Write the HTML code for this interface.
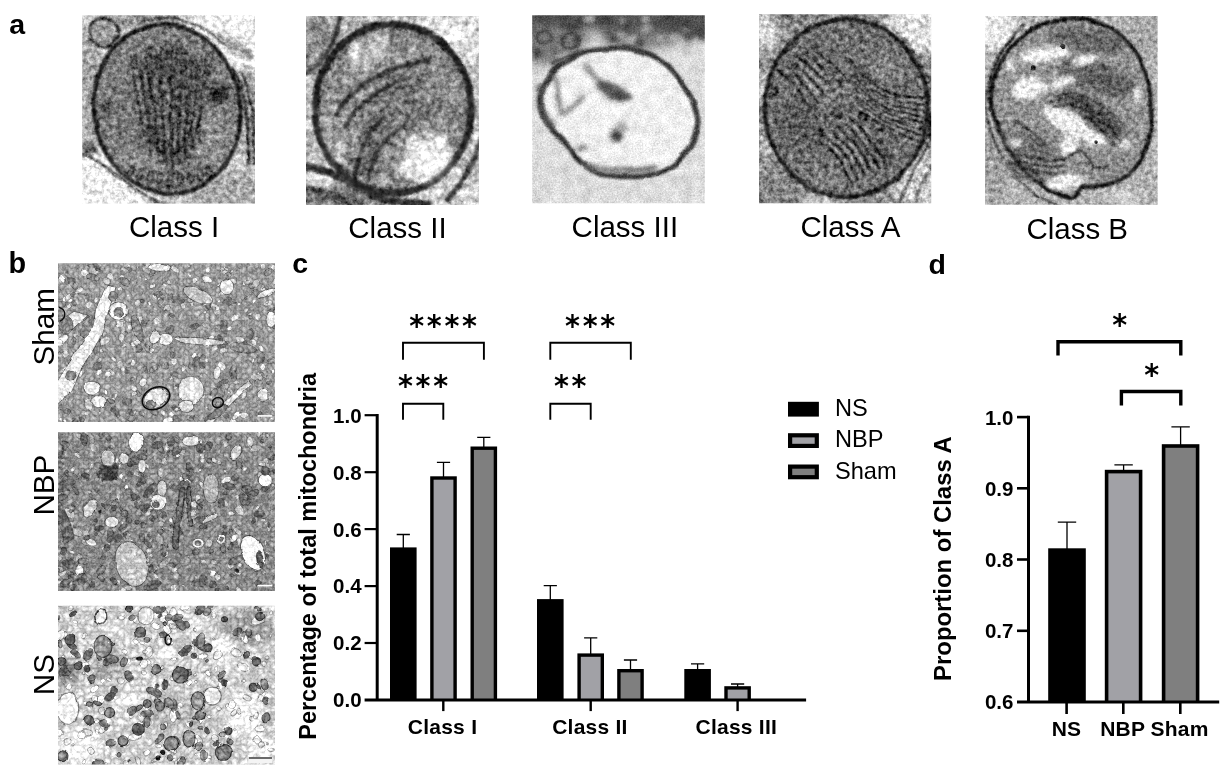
<!DOCTYPE html>
<html lang="en"><head><meta charset="utf-8"><title>Figure</title>
<style>html,body{margin:0;padding:0;background:#fff;}body{width:1227px;height:770px;overflow:hidden;position:relative;}svg{position:absolute;left:0;top:0;display:block;}text{font-family:'Liberation Sans', Arial, Helvetica, sans-serif;fill:#000;}.st{font-family:'DejaVu Sans',sans-serif;}</style></head><body>
<svg width="1227" height="770" viewBox="0 0 1227 770">
<defs>
<clipPath id="cp_a1"><rect x="0" y="0" width="172.8" height="188.2"/></clipPath>
<clipPath id="cp_a2"><rect x="0" y="0" width="172.4" height="188.3"/></clipPath>
<clipPath id="cp_a3"><rect x="0" y="0" width="172.6" height="188.0"/></clipPath>
<clipPath id="cp_a4"><rect x="0" y="0" width="172.2" height="189.0"/></clipPath>
<clipPath id="cp_a5"><rect x="0" y="0" width="172.5" height="188.7"/></clipPath>
<clipPath id="cp_b1"><rect x="0" y="0" width="217.0" height="158.6"/></clipPath>
<clipPath id="cp_b2"><rect x="0" y="0" width="217.0" height="158.9"/></clipPath>
<clipPath id="cp_b3"><rect x="0" y="0" width="217.0" height="158.8"/></clipPath>
<filter id="bl05" x="-30%" y="-30%" width="160%" height="160%" color-interpolation-filters="sRGB"><feGaussianBlur stdDeviation="0.5"/></filter>
<filter id="bl08" x="-30%" y="-30%" width="160%" height="160%" color-interpolation-filters="sRGB"><feGaussianBlur stdDeviation="0.8"/></filter>
<filter id="bl1" x="-30%" y="-30%" width="160%" height="160%" color-interpolation-filters="sRGB"><feGaussianBlur stdDeviation="1.1"/></filter>
<filter id="bl2" x="-30%" y="-30%" width="160%" height="160%" color-interpolation-filters="sRGB"><feGaussianBlur stdDeviation="2"/></filter>
<filter id="bl3" x="-30%" y="-30%" width="160%" height="160%" color-interpolation-filters="sRGB"><feGaussianBlur stdDeviation="3"/></filter>
<filter id="bl5" x="-30%" y="-30%" width="160%" height="160%" color-interpolation-filters="sRGB"><feGaussianBlur stdDeviation="5"/></filter>
<filter id="bl8" x="-30%" y="-30%" width="160%" height="160%" color-interpolation-filters="sRGB"><feGaussianBlur stdDeviation="8"/></filter>
<filter id="bl12" x="-30%" y="-30%" width="160%" height="160%" color-interpolation-filters="sRGB"><feGaussianBlur stdDeviation="12"/></filter>
<filter id="gr_a1" filterUnits="userSpaceOnUse" x="0" y="0" width="172.8" height="188.2" color-interpolation-filters="sRGB"><feTurbulence type="fractalNoise" baseFrequency="0.05" numOctaves="2" seed="10" result="dn"/><feDisplacementMap in="SourceGraphic" in2="dn" scale="4" xChannelSelector="R" yChannelSelector="G" result="src"/><feTurbulence type="fractalNoise" baseFrequency="0.5" numOctaves="2" seed="3" result="t1"/><feColorMatrix in="t1" type="matrix" values="1 0 0 0 0  1 0 0 0 0  1 0 0 0 0  0 0 0 0 1" result="g1"/><feComposite in="src" in2="g1" operator="arithmetic" k1="0" k2="1" k3="0.28" k4="-0.140" result="c1"/><feTurbulence type="fractalNoise" baseFrequency="0.2" numOctaves="3" seed="14" result="t2"/><feColorMatrix in="t2" type="matrix" values="0 1 0 0 0  0 1 0 0 0  0 1 0 0 0  0 0 0 0 1" result="g2"/><feComposite in="c1" in2="g2" operator="arithmetic" k1="0" k2="1" k3="0.7" k4="-0.350" result="c2"/></filter>
<filter id="gr_a2" filterUnits="userSpaceOnUse" x="0" y="0" width="172.4" height="188.3" color-interpolation-filters="sRGB"><feTurbulence type="fractalNoise" baseFrequency="0.05" numOctaves="2" seed="12" result="dn"/><feDisplacementMap in="SourceGraphic" in2="dn" scale="4" xChannelSelector="R" yChannelSelector="G" result="src"/><feTurbulence type="fractalNoise" baseFrequency="0.45" numOctaves="2" seed="5" result="t1"/><feColorMatrix in="t1" type="matrix" values="1 0 0 0 0  1 0 0 0 0  1 0 0 0 0  0 0 0 0 1" result="g1"/><feComposite in="src" in2="g1" operator="arithmetic" k1="0" k2="1" k3="0.25" k4="-0.125" result="c1"/><feTurbulence type="fractalNoise" baseFrequency="0.19" numOctaves="3" seed="16" result="t2"/><feColorMatrix in="t2" type="matrix" values="0 1 0 0 0  0 1 0 0 0  0 1 0 0 0  0 0 0 0 1" result="g2"/><feComposite in="c1" in2="g2" operator="arithmetic" k1="0" k2="1" k3="0.6" k4="-0.300" result="c2"/><feTurbulence type="turbulence" baseFrequency="0.07" numOctaves="2" seed="28" result="t3"/><feColorMatrix in="t3" type="matrix" values="1 0 0 0 0  1 0 0 0 0  1 0 0 0 0  0 0 0 0 1" result="g3"/><feComposite in="c2" in2="g3" operator="arithmetic" k1="0" k2="1" k3="0.5" k4="-0.125" result="c3"/></filter>
<filter id="gr_a3" filterUnits="userSpaceOnUse" x="0" y="0" width="172.6" height="188.0" color-interpolation-filters="sRGB"><feTurbulence type="fractalNoise" baseFrequency="0.05" numOctaves="2" seed="15" result="dn"/><feDisplacementMap in="SourceGraphic" in2="dn" scale="4" xChannelSelector="R" yChannelSelector="G" result="src"/><feTurbulence type="fractalNoise" baseFrequency="0.6" numOctaves="2" seed="8" result="t1"/><feColorMatrix in="t1" type="matrix" values="1 0 0 0 0  1 0 0 0 0  1 0 0 0 0  0 0 0 0 1" result="g1"/><feComposite in="src" in2="g1" operator="arithmetic" k1="0" k2="1" k3="0.3" k4="-0.150" result="c1"/><feTurbulence type="fractalNoise" baseFrequency="0.1" numOctaves="3" seed="19" result="t2"/><feColorMatrix in="t2" type="matrix" values="0 1 0 0 0  0 1 0 0 0  0 1 0 0 0  0 0 0 0 1" result="g2"/><feComposite in="c1" in2="g2" operator="arithmetic" k1="0" k2="1" k3="0.2" k4="-0.100" result="c2"/></filter>
<filter id="gr_a4" filterUnits="userSpaceOnUse" x="0" y="0" width="172.2" height="189.0" color-interpolation-filters="sRGB"><feTurbulence type="fractalNoise" baseFrequency="0.05" numOctaves="2" seed="19" result="dn"/><feDisplacementMap in="SourceGraphic" in2="dn" scale="4" xChannelSelector="R" yChannelSelector="G" result="src"/><feTurbulence type="fractalNoise" baseFrequency="0.5" numOctaves="2" seed="12" result="t1"/><feColorMatrix in="t1" type="matrix" values="1 0 0 0 0  1 0 0 0 0  1 0 0 0 0  0 0 0 0 1" result="g1"/><feComposite in="src" in2="g1" operator="arithmetic" k1="0" k2="1" k3="0.28" k4="-0.140" result="c1"/><feTurbulence type="fractalNoise" baseFrequency="0.2" numOctaves="3" seed="23" result="t2"/><feColorMatrix in="t2" type="matrix" values="0 1 0 0 0  0 1 0 0 0  0 1 0 0 0  0 0 0 0 1" result="g2"/><feComposite in="c1" in2="g2" operator="arithmetic" k1="0" k2="1" k3="0.75" k4="-0.375" result="c2"/></filter>
<filter id="gr_a5" filterUnits="userSpaceOnUse" x="0" y="0" width="172.5" height="188.7" color-interpolation-filters="sRGB"><feTurbulence type="fractalNoise" baseFrequency="0.05" numOctaves="2" seed="24" result="dn"/><feDisplacementMap in="SourceGraphic" in2="dn" scale="4" xChannelSelector="R" yChannelSelector="G" result="src"/><feTurbulence type="fractalNoise" baseFrequency="0.55" numOctaves="2" seed="17" result="t1"/><feColorMatrix in="t1" type="matrix" values="1 0 0 0 0  1 0 0 0 0  1 0 0 0 0  0 0 0 0 1" result="g1"/><feComposite in="src" in2="g1" operator="arithmetic" k1="0" k2="1" k3="0.26" k4="-0.130" result="c1"/><feTurbulence type="fractalNoise" baseFrequency="0.22" numOctaves="3" seed="28" result="t2"/><feColorMatrix in="t2" type="matrix" values="0 1 0 0 0  0 1 0 0 0  0 1 0 0 0  0 0 0 0 1" result="g2"/><feComposite in="c1" in2="g2" operator="arithmetic" k1="0" k2="1" k3="0.6" k4="-0.300" result="c2"/></filter>
<filter id="gr_b1" filterUnits="userSpaceOnUse" x="0" y="0" width="217.0" height="158.6" color-interpolation-filters="sRGB"><feTurbulence type="fractalNoise" baseFrequency="0.08" numOctaves="2" seed="28" result="dn"/><feDisplacementMap in="SourceGraphic" in2="dn" scale="3" xChannelSelector="R" yChannelSelector="G" result="src"/><feTurbulence type="fractalNoise" baseFrequency="0.6" numOctaves="2" seed="21" result="t1"/><feColorMatrix in="t1" type="matrix" values="1 0 0 0 0  1 0 0 0 0  1 0 0 0 0  0 0 0 0 1" result="g1"/><feComposite in="src" in2="g1" operator="arithmetic" k1="0" k2="1" k3="0.18" k4="-0.090" result="c1"/><feTurbulence type="fractalNoise" baseFrequency="0.28" numOctaves="3" seed="32" result="t2"/><feColorMatrix in="t2" type="matrix" values="0 1 0 0 0  0 1 0 0 0  0 1 0 0 0  0 0 0 0 1" result="g2"/><feComposite in="c1" in2="g2" operator="arithmetic" k1="0" k2="1" k3="0.28" k4="-0.140" result="c2"/><feTurbulence type="turbulence" baseFrequency="0.19" numOctaves="2" seed="44" result="t3"/><feColorMatrix in="t3" type="matrix" values="1 0 0 0 0  1 0 0 0 0  1 0 0 0 0  0 0 0 0 1" result="g3"/><feComposite in="c2" in2="g3" operator="arithmetic" k1="0" k2="1" k3="0.48" k4="-0.072" result="c3"/></filter>
<filter id="gr_b2" filterUnits="userSpaceOnUse" x="0" y="0" width="217.0" height="158.9" color-interpolation-filters="sRGB"><feTurbulence type="fractalNoise" baseFrequency="0.08" numOctaves="2" seed="32" result="dn"/><feDisplacementMap in="SourceGraphic" in2="dn" scale="3" xChannelSelector="R" yChannelSelector="G" result="src"/><feTurbulence type="fractalNoise" baseFrequency="0.6" numOctaves="2" seed="25" result="t1"/><feColorMatrix in="t1" type="matrix" values="1 0 0 0 0  1 0 0 0 0  1 0 0 0 0  0 0 0 0 1" result="g1"/><feComposite in="src" in2="g1" operator="arithmetic" k1="0" k2="1" k3="0.18" k4="-0.090" result="c1"/><feTurbulence type="fractalNoise" baseFrequency="0.28" numOctaves="3" seed="36" result="t2"/><feColorMatrix in="t2" type="matrix" values="0 1 0 0 0  0 1 0 0 0  0 1 0 0 0  0 0 0 0 1" result="g2"/><feComposite in="c1" in2="g2" operator="arithmetic" k1="0" k2="1" k3="0.28" k4="-0.140" result="c2"/><feTurbulence type="turbulence" baseFrequency="0.19" numOctaves="2" seed="48" result="t3"/><feColorMatrix in="t3" type="matrix" values="1 0 0 0 0  1 0 0 0 0  1 0 0 0 0  0 0 0 0 1" result="g3"/><feComposite in="c2" in2="g3" operator="arithmetic" k1="0" k2="1" k3="0.48" k4="-0.082" result="c3"/></filter>
<filter id="gr_b3" filterUnits="userSpaceOnUse" x="0" y="0" width="217.0" height="158.8" color-interpolation-filters="sRGB"><feTurbulence type="fractalNoise" baseFrequency="0.08" numOctaves="2" seed="36" result="dn"/><feDisplacementMap in="SourceGraphic" in2="dn" scale="3" xChannelSelector="R" yChannelSelector="G" result="src"/><feTurbulence type="fractalNoise" baseFrequency="0.6" numOctaves="2" seed="29" result="t1"/><feColorMatrix in="t1" type="matrix" values="1 0 0 0 0  1 0 0 0 0  1 0 0 0 0  0 0 0 0 1" result="g1"/><feComposite in="src" in2="g1" operator="arithmetic" k1="0" k2="1" k3="0.16" k4="-0.080" result="c1"/><feTurbulence type="fractalNoise" baseFrequency="0.25" numOctaves="3" seed="40" result="t2"/><feColorMatrix in="t2" type="matrix" values="0 1 0 0 0  0 1 0 0 0  0 1 0 0 0  0 0 0 0 1" result="g2"/><feComposite in="c1" in2="g2" operator="arithmetic" k1="0" k2="1" k3="0.22" k4="-0.110" result="c2"/><feTurbulence type="turbulence" baseFrequency="0.15" numOctaves="2" seed="52" result="t3"/><feColorMatrix in="t3" type="matrix" values="1 0 0 0 0  1 0 0 0 0  1 0 0 0 0  0 0 0 0 1" result="g3"/><feComposite in="c2" in2="g3" operator="arithmetic" k1="0" k2="1" k3="0.55" k4="-0.063" result="c3"/></filter>
</defs>
<rect width="1227" height="770" fill="#fff"/>
<g id="img_a1" transform="translate(82.2 15.2)"><g clip-path="url(#cp_a1)"><g filter="url(#gr_a1)"><rect x="-5" y="-5" width="182.8" height="198.2" fill="#c9c9c9"/><g filter="url(#bl5)"><ellipse cx="152" cy="20" rx="48" ry="34" fill="#f6f6f6"/><ellipse cx="22" cy="172" rx="46" ry="34" fill="#f4f4f4"/><ellipse cx="8" cy="80" rx="14" ry="60" fill="#a6a6a6"/><ellipse cx="150" cy="180" rx="40" ry="22" fill="#a9a9a9"/><ellipse cx="168" cy="95" rx="10" ry="55" fill="#9a9a9a"/><ellipse cx="60" cy="5" rx="40" ry="8" fill="#8e8e8e"/></g><g filter="url(#bl3)"><path d="M118 -4 L180 -4 L180 60 L160 50 L140 26 Z" fill="#f4f4f4"/><path d="M-4 150 L30 160 L70 192 L-4 192 Z" fill="#f2f2f2"/></g><g filter="url(#bl2)"><path d="M128 16 L165 28 L174 46 L150 38 Z" fill="#9e9e9e"/></g><g filter="url(#bl08)"><ellipse cx="22" cy="17" rx="15" ry="14" fill="#9c9c9c" stroke="#262626" stroke-width="3"/></g><g filter="url(#bl08)" fill="none" stroke="#2d2d2d"><path d="M150 52 C162 70 168 110 166 150" stroke-width="2.6" stroke="#1c1c1c"/><path d="M160 58 C170 85 174 120 172 150" stroke-width="2.2" stroke="#1c1c1c"/><path d="M-2 138 C20 146 40 165 66 182 C80 190 95 192 110 192" stroke-width="2.2"/><path d="M60 6 C90 -2 120 8 142 30" stroke-width="1.8"/></g><g filter="url(#bl1)"><ellipse cx="8" cy="134" rx="7" ry="6" fill="#555"/></g><g transform="rotate(-10 85 94)"><g filter="url(#bl08)"><ellipse cx="85" cy="94" rx="73" ry="85" fill="#7e7e7e" stroke="#161616" stroke-width="3.6"/></g></g><g filter="url(#bl5)"><ellipse cx="88" cy="92" rx="34" ry="60" fill="#626262"/><ellipse cx="40" cy="95" rx="18" ry="30" fill="#787878"/><ellipse cx="130" cy="125" rx="18" ry="30" fill="#8c8c8c"/><ellipse cx="60" cy="150" rx="25" ry="14" fill="#8e8e8e"/></g><g filter="url(#bl2)"><ellipse cx="137" cy="78" rx="11" ry="10" fill="#2a2a2a"/><ellipse cx="24" cy="92" rx="6" ry="6" fill="#444"/></g><g filter="url(#bl08)" fill="none" stroke="#1c1c1c" stroke-width="2" opacity="0.9"><path d="M48.0 40.8 Q54.4 80.5 62.0 120.2"/><path d="M53.1 37.4 Q61.6 80.6 71.2 123.9"/><path d="M58.2 44.0 Q65.0 92.0 68.5 140.1"/><path d="M63.4 33.2 Q69.2 86.7 77.8 140.2"/><path d="M68.5 30.1 Q70.0 83.9 75.0 137.7"/><path d="M73.6 36.6 Q80.8 95.1 84.2 153.6"/><path d="M78.8 32.6 Q79.0 90.2 81.5 147.8"/><path d="M83.9 28.0 Q89.4 94.4 90.8 160.8"/><path d="M89.0 28.6 Q89.1 88.2 88.0 147.9"/><path d="M94.1 28.6 Q93.8 89.4 97.2 150.2"/><path d="M99.2 28.7 Q99.5 83.9 94.5 139.2"/><path d="M104.4 35.9 Q102.9 89.0 103.8 142.1"/><path d="M109.5 38.9 Q107.5 88.5 101.0 138.2"/><path d="M114.6 40.7 Q111.9 86.7 110.2 132.8"/><path d="M119.8 40.2 Q111.6 83.7 107.5 127.1"/><path d="M124.9 39.2 Q118.1 84.0 116.8 128.9"/><path d="M130.0 38.6 Q120.7 80.0 114.0 121.5"/></g><g filter="url(#bl08)" fill="none" stroke="#9a9a9a" stroke-width="1.3" opacity="0.75"><path d="M55.0 65.0 L66.0 110.0"/><path d="M65.0 60.7 L72.6 117.1"/><path d="M75.0 56.4 L79.1 124.3"/><path d="M85.0 52.1 L85.7 131.4"/><path d="M95.0 52.1 L92.3 131.4"/><path d="M105.0 56.4 L98.9 124.3"/><path d="M115.0 60.7 L105.4 117.1"/><path d="M125.0 65.0 L112.0 110.0"/></g><g filter="url(#bl08)" fill="none" stroke="#1e1e1e" stroke-width="1.8"><ellipse cx="48" cy="157.2" rx="2.6" ry="6" transform="rotate(24 48 157.2)"/><ellipse cx="58" cy="159.4" rx="2.6" ry="6" transform="rotate(18 58 159.4)"/><ellipse cx="68" cy="161.6" rx="2.6" ry="6" transform="rotate(12 68 161.6)"/><ellipse cx="78" cy="163.8" rx="2.6" ry="6" transform="rotate(6 78 163.8)"/><ellipse cx="88" cy="166.0" rx="2.6" ry="6" transform="rotate(0 88 166.0)"/><ellipse cx="98" cy="163.8" rx="2.6" ry="6" transform="rotate(-6 98 163.8)"/><ellipse cx="108" cy="161.6" rx="2.6" ry="6" transform="rotate(-12 108 161.6)"/><ellipse cx="118" cy="159.4" rx="2.6" ry="6" transform="rotate(-18 118 159.4)"/><ellipse cx="128" cy="157.2" rx="2.6" ry="6" transform="rotate(-24 128 157.2)"/></g></g><g filter="url(#bl08)" opacity="0.55"><ellipse cx="85" cy="94" rx="73" ry="85" fill="none" stroke="#161616" stroke-width="3.2" transform="rotate(-10 85 94)"/></g></g></g>
<g id="img_a2" transform="translate(306.1 16.1)"><g clip-path="url(#cp_a2)"><g filter="url(#gr_a2)"><rect x="-5" y="-5" width="182.4" height="198.3" fill="#c4c4c4"/><g filter="url(#bl5)"><ellipse cx="150" cy="18" rx="40" ry="26" fill="#e8e8e8"/><ellipse cx="12" cy="30" rx="22" ry="30" fill="#8c8c8c"/><ellipse cx="10" cy="120" rx="10" ry="40" fill="#b8b8b8"/><ellipse cx="40" cy="182" rx="55" ry="14" fill="#777"/><ellipse cx="160" cy="175" rx="25" ry="18" fill="#d2d2d2"/><ellipse cx="8" cy="165" rx="12" ry="10" fill="#d8d8d8"/></g><g filter="url(#bl1)" fill="none" stroke="#4a4a4a"><path d="M-2 58 C18 50 30 25 34 -2" stroke-width="4"/><path d="M-2 150 C20 152 40 165 60 175 C80 186 100 190 125 188" stroke-width="7" stroke="#3a3a3a"/><path d="M-2 172 C15 172 30 180 45 190" stroke-width="5"/><path d="M175 120 C170 145 158 165 140 185" stroke-width="5"/></g><g filter="url(#bl1)"><ellipse cx="87" cy="92.5" rx="78" ry="84.5" fill="#888" stroke="#262626" stroke-width="6.6"/></g><g filter="url(#bl5)"><ellipse cx="62" cy="38" rx="24" ry="14" fill="#c6c6c6" transform="rotate(-25 62 38)"/><ellipse cx="121" cy="144" rx="28" ry="23" fill="#f4f4f4" transform="rotate(-30 121 144)"/><ellipse cx="100" cy="85" rx="34" ry="24" fill="#767676" transform="rotate(-20 100 85)"/><ellipse cx="62" cy="135" rx="14" ry="34" fill="#6c6c6c" transform="rotate(22 62 135)"/><ellipse cx="30" cy="120" rx="12" ry="30" fill="#a8a8a8"/><ellipse cx="140" cy="75" rx="14" ry="20" fill="#8a8a8a"/></g><g filter="url(#bl1)" fill="none" stroke="#3c3c3c"><path d="M30 100 C45 70 80 50 125 44" stroke-width="4.4"/><path d="M38 112 C55 82 80 68 105 62" stroke-width="3.4"/><path d="M48 170 C50 140 60 115 80 100" stroke-width="4"/><path d="M62 165 C66 140 78 120 100 108" stroke-width="3.2"/></g></g><g filter="url(#bl1)" opacity="0.6"><ellipse cx="87" cy="92.5" rx="78" ry="84.5" fill="none" stroke="#222" stroke-width="5.6"/></g><g filter="url(#bl1)" opacity="0.5" fill="none" stroke="#2e2e2e"><path d="M30 100 C45 70 80 50 125 44" stroke-width="3.6"/><path d="M38 112 C55 82 80 68 105 62" stroke-width="2.6"/><path d="M48 170 C50 140 60 115 80 100" stroke-width="3.2"/><path d="M62 165 C66 140 78 120 100 108" stroke-width="2.4"/><path d="M-2 150 C20 152 40 165 60 175 C80 186 100 190 125 188" stroke-width="6"/><path d="M-2 58 C18 50 30 25 34 -2" stroke-width="3.4"/><path d="M175 120 C170 145 158 165 140 185" stroke-width="4"/></g></g></g>
<g id="img_a3" transform="translate(532.2 15.2)"><g clip-path="url(#cp_a3)"><g filter="url(#gr_a3)"><rect x="-5" y="-5" width="182.6" height="198.0" fill="#dcdcdc"/><g filter="url(#bl5)"><rect x="-10" y="-14" width="200" height="38" fill="#4e4e4e"/><ellipse cx="18" cy="30" rx="34" ry="20" fill="#767676"/><ellipse cx="110" cy="24" rx="40" ry="9" fill="#7a7a7a"/><ellipse cx="62" cy="22" rx="10" ry="8" fill="#c8c8c8"/><ellipse cx="160" cy="30" rx="16" ry="10" fill="#d8d8d8"/></g><g filter="url(#bl2)"><ellipse cx="137" cy="10" rx="3.8" ry="4.8" fill="#484848"/><ellipse cx="50" cy="29" rx="4.0" ry="3.9" fill="#b8b8b8"/><ellipse cx="114" cy="0" rx="3.1" ry="4.9" fill="#555"/><ellipse cx="30" cy="42" rx="7.0" ry="3.5" fill="#b8b8b8"/><ellipse cx="57" cy="4" rx="6.1" ry="3.8" fill="#b8b8b8"/><ellipse cx="35" cy="10" rx="6.4" ry="4.2" fill="#3e3e3e"/><ellipse cx="155" cy="18" rx="3.3" ry="4.6" fill="#b8b8b8"/><ellipse cx="169" cy="22" rx="4.3" ry="2.7" fill="#444"/><ellipse cx="99" cy="25" rx="6.9" ry="3.2" fill="#b8b8b8"/><ellipse cx="108" cy="28" rx="4.4" ry="3.8" fill="#3e3e3e"/><ellipse cx="142" cy="23" rx="6.0" ry="4.9" fill="#a8a8a8"/><ellipse cx="91" cy="7" rx="4.6" ry="2.8" fill="#a8a8a8"/><ellipse cx="138" cy="0" rx="3.2" ry="4.1" fill="#3e3e3e"/><ellipse cx="128" cy="23" rx="3.5" ry="5.0" fill="#a8a8a8"/><ellipse cx="156" cy="21" rx="5.6" ry="4.6" fill="#3e3e3e"/><ellipse cx="113" cy="4" rx="3.4" ry="4.6" fill="#b8b8b8"/><ellipse cx="157" cy="28" rx="5.3" ry="2.7" fill="#a8a8a8"/><ellipse cx="83" cy="23" rx="5.8" ry="3.1" fill="#3e3e3e"/><ellipse cx="115" cy="14" rx="6.9" ry="2.8" fill="#a8a8a8"/><ellipse cx="147" cy="7" rx="6.1" ry="2.7" fill="#484848"/><ellipse cx="28" cy="1" rx="5.7" ry="4.4" fill="#484848"/><ellipse cx="166" cy="17" rx="5.4" ry="3.7" fill="#444"/><ellipse cx="46" cy="25" rx="4.9" ry="3.5" fill="#3e3e3e"/><ellipse cx="93" cy="9" rx="3.1" ry="3.7" fill="#484848"/><ellipse cx="6" cy="38" rx="3.4" ry="4.7" fill="#3e3e3e"/><ellipse cx="88" cy="20" rx="3.7" ry="4.9" fill="#a8a8a8"/></g><g filter="url(#bl1)" fill="none" stroke="#444" stroke-width="2.8"><ellipse cx="38" cy="26" rx="9" ry="8"/><ellipse cx="12" cy="22" rx="7" ry="6"/><path d="M20 50 C28 42 40 40 50 38"/></g><g filter="url(#bl1)"><path d="M79 33 C95 31 108 35 119.5 39.8 C132 46 140 53 146.6 62.8 C154 73 160 82 162.8 92.5 C165 100 166.5 104 165.5 108.7 C164 120 160 128 154.7 135.7 C148 146 140 152 130.3 156 C120 160 110 162 97.9 161.4 C88 161.5 78 161 68.2 158.7 C60 156 54 152 47.9 146.6 C42 141 40 136 35.7 130.3 C30 124 25 120 19.5 114.1 C15 109 12 104 10.1 97.9 C8 92 8 87 8.7 81.7 C10 74 12 68 16.8 62.8 C21 56 26 51 33 46.6 C40 42 47 38 54.7 35.7 C62 33.5 70 33 79 33 Z" fill="#f0f0f0" stroke="#383838" stroke-width="5.5" stroke-linejoin="round"/></g><g filter="url(#bl2)" fill="none" stroke="#4a4a4a"><path d="M10 70 C6 85 10 100 20 112" stroke-width="6"/><path d="M22 60 C26 75 26 90 30 100 C36 96 44 90 52 80" stroke-width="3.5" stroke="#6a6a6a"/><path d="M52 48 C60 60 66 68 78 74" stroke-width="4" stroke="#707070"/><path d="M50 150 C70 156 100 158 125 152" stroke-width="5" stroke="#666"/></g><g filter="url(#bl2)"><ellipse cx="82" cy="77" rx="19" ry="7" fill="#4e4e4e" transform="rotate(22 82 77)"/><ellipse cx="84.5" cy="121" rx="6.5" ry="6" fill="#454545"/><ellipse cx="90" cy="112" rx="6" ry="4" fill="#9a9a9a"/><ellipse cx="50" cy="132" rx="6" ry="4" fill="#8a8a8a"/></g></g></g></g>
<g id="img_a4" transform="translate(759.0 14.2)"><g clip-path="url(#cp_a4)"><g filter="url(#gr_a4)"><rect x="-5" y="-5" width="182.2" height="199.0" fill="#8e8e8e"/><g filter="url(#bl5)"><ellipse cx="158" cy="14" rx="32" ry="26" fill="#e2e2e2"/><ellipse cx="6" cy="18" rx="14" ry="18" fill="#dcdcdc"/><ellipse cx="30" cy="2" rx="14" ry="6" fill="#6a6a6a"/><ellipse cx="2" cy="72" rx="8" ry="12" fill="#d8d8d8"/><ellipse cx="160" cy="170" rx="26" ry="28" fill="#cdcdcd"/><ellipse cx="20" cy="175" rx="30" ry="20" fill="#858585"/><ellipse cx="60" cy="186" rx="20" ry="8" fill="#c4c4c4"/><ellipse cx="10" cy="130" rx="10" ry="14" fill="#b8b8b8"/></g><g filter="url(#bl1)" fill="none" stroke="#4a4a4a" stroke-width="2.2"><path d="M174 120 C168 140 150 158 140 190"/><path d="M176 150 C168 160 158 175 156 192"/><path d="M132 14 C150 28 165 50 172 75"/></g><g filter="url(#bl08)"><ellipse cx="87.3" cy="94" rx="81.5" ry="89" fill="#707070" stroke="#181818" stroke-width="3.6"/></g><g filter="url(#bl5)"><ellipse cx="60" cy="70" rx="22" ry="14" fill="#8a8a8a" transform="rotate(40 60 70)"/><ellipse cx="125" cy="55" rx="16" ry="10" fill="#8a8a8a"/><ellipse cx="40" cy="110" rx="20" ry="26" fill="#5c5c5c"/><ellipse cx="118" cy="140" rx="16" ry="18" fill="#5a5a5a"/><ellipse cx="100" cy="115" rx="14" ry="9" fill="#7c7c7c"/><ellipse cx="70" cy="165" rx="22" ry="8" fill="#808080"/></g><g filter="url(#bl08)" fill="none" stroke="#141414" stroke-width="2.1" opacity="0.95"><path d="M90.0 44.0 Q112.0 84.0 166.0 84.0"/><path d="M91.5 51.5 Q114.0 88.2 165.5 90.2"/><path d="M93.0 59.0 Q116.0 92.4 165.0 96.4"/><path d="M94.5 66.5 Q118.0 96.6 164.5 102.6"/><path d="M96.0 74.0 Q120.0 100.8 164.0 108.8"/><path d="M97.5 81.5 Q122.0 105.0 163.5 115.0"/><path d="M99.0 89.0 Q124.0 109.2 163.0 121.2"/><path d="M100.5 96.5 Q126.0 113.4 162.5 127.4"/><path d="M58.0 126.0 Q82.0 138.0 92.0 170.0"/><path d="M65.0 121.5 Q88.0 135.5 99.0 166.0"/><path d="M72.0 117.0 Q94.0 133.0 106.0 162.0"/><path d="M79.0 112.5 Q100.0 130.5 113.0 158.0"/><path d="M86.0 108.0 Q106.0 128.0 120.0 154.0"/><path d="M93.0 103.5 Q112.0 125.5 127.0 150.0"/><path d="M18.0 56.0 Q36.0 66.0 52.0 96.0"/><path d="M24.5 51.5 Q43.0 62.0 59.5 90.0"/><path d="M31.0 47.0 Q50.0 58.0 67.0 84.0"/><path d="M37.5 42.5 Q57.0 54.0 74.5 78.0"/><path d="M44.0 38.0 Q64.0 50.0 82.0 72.0"/><path d="M50.5 33.5 Q71.0 46.0 89.5 66.0"/><ellipse cx="120" cy="112" rx="5" ry="3.5" transform="rotate(20 120 112)"/><ellipse cx="103" cy="103" rx="4" ry="2.5" transform="rotate(40 103 103)"/><ellipse cx="98" cy="125" rx="4" ry="2.5" transform="rotate(30 98 125)"/><ellipse cx="15" cy="77" rx="3" ry="3" transform="rotate(0 15 77)"/><ellipse cx="107" cy="62" rx="5" ry="2.5" transform="rotate(45 107 62)"/><ellipse cx="78" cy="100" rx="5" ry="2.5" transform="rotate(40 78 100)"/><ellipse cx="60" cy="118" rx="5" ry="2.5" transform="rotate(35 60 118)"/></g><g filter="url(#bl08)" fill="none" stroke="#a0a0a0" stroke-width="1.5" opacity="0.8"><path d="M91.0 47.7 Q113.0 87.5 166.0 87.2"/><path d="M92.5 55.2 Q115.0 91.7 165.5 93.4"/><path d="M94.0 62.7 Q117.0 95.9 165.0 99.6"/><path d="M95.5 70.2 Q119.0 100.1 164.5 105.8"/><path d="M97.0 77.7 Q121.0 104.3 164.0 112.0"/><path d="M98.5 85.2 Q123.0 108.5 163.5 118.2"/><path d="M100.0 92.7 Q125.0 112.7 163.0 124.4"/><path d="M61.5 124.0 Q85.0 137.0 95.5 168.0"/><path d="M68.5 119.5 Q91.0 134.5 102.5 164.0"/><path d="M75.5 115.0 Q97.0 132.0 109.5 160.0"/><path d="M82.5 110.5 Q103.0 129.5 116.5 156.0"/><path d="M89.5 106.0 Q109.0 127.0 123.5 152.0"/></g><g filter="url(#bl2)"><ellipse cx="170" cy="110" rx="5" ry="14" fill="#2a2a2a"/></g></g><g filter="url(#bl08)" opacity="0.5"><ellipse cx="87.3" cy="94" rx="81.5" ry="89" fill="none" stroke="#181818" stroke-width="3.2"/></g></g></g>
<g id="img_a5" transform="translate(985.1 16.1)"><g clip-path="url(#cp_a5)"><g filter="url(#gr_a5)"><rect x="-5" y="-5" width="182.5" height="198.7" fill="#b4b4b4"/><g filter="url(#bl5)"><ellipse cx="10" cy="14" rx="22" ry="20" fill="#e8e8e8"/><ellipse cx="160" cy="20" rx="20" ry="22" fill="#a8a8a8"/><ellipse cx="8" cy="150" rx="14" ry="40" fill="#a2a2a2"/><ellipse cx="160" cy="175" rx="24" ry="20" fill="#b0b0b0"/><ellipse cx="140" cy="182" rx="14" ry="8" fill="#d8d8d8"/></g><g filter="url(#bl08)"><path d="M86 2 C120 0 150 25 160 55 C170 85 168 120 158 140 C148 160 130 168 112 170 C104 171 98 168 95 172 C92 178 90 184 84 182 C70 178 50 168 36 150 C18 128 6 105 6 80 C6 45 40 4 86 2 Z" fill="#929292" stroke="#0c0c0c" stroke-width="3.6"/></g><g filter="url(#bl08)" fill="none" stroke="#2a2a2a" stroke-width="2"><path d="M40 8 C14 30 0 60 1 90 C2 110 8 128 18 142"/><path d="M30 20 C10 42 3 66 4 86"/><path d="M22 150 C36 170 56 184 76 192"/></g><g filter="url(#bl3)"><ellipse cx="104" cy="24" rx="40" ry="12" fill="#666" transform="rotate(8 104 24)"/><ellipse cx="112" cy="62" rx="40" ry="14" fill="#606060" transform="rotate(18 112 62)"/><ellipse cx="110" cy="100" rx="38" ry="12" fill="#5a5a5a" transform="rotate(35 110 100)"/><ellipse cx="45" cy="130" rx="30" ry="12" fill="#6e6e6e" transform="rotate(20 45 130)"/><ellipse cx="40" cy="155" rx="24" ry="8" fill="#606060" transform="rotate(25 40 155)"/><ellipse cx="125" cy="150" rx="22" ry="12" fill="#8a8a8a"/></g><g filter="url(#bl2)" fill="#efefef"><ellipse cx="60" cy="38" rx="26" ry="7.5" transform="rotate(-8 60 38)"/><ellipse cx="100" cy="44" rx="14" ry="5" transform="rotate(-15 100 44)"/><ellipse cx="44" cy="72" rx="18" ry="11" transform="rotate(-10 44 72)"/><ellipse cx="78" cy="66" rx="14" ry="5" transform="rotate(-20 78 66)"/><ellipse cx="82" cy="106" rx="27" ry="11" transform="rotate(32 82 106)"/><ellipse cx="108" cy="122" rx="15" ry="7" transform="rotate(20 108 122)"/><ellipse cx="84" cy="130" rx="8" ry="10"/><ellipse cx="80" cy="166" rx="19" ry="7.5" transform="rotate(-5 80 166)"/><ellipse cx="152" cy="80" rx="4" ry="10" fill="#ddd"/><ellipse cx="30" cy="126" rx="7" ry="4" fill="#ddd"/><ellipse cx="140" cy="128" rx="8" ry="5" fill="#ddd"/><ellipse cx="24" cy="48" rx="5" ry="8" fill="#ddd"/></g><g filter="url(#bl08)" fill="none" stroke="#1e1e1e" stroke-width="2" opacity="0.9"><path d="M62 86 C80 78 100 84 122 104"/><path d="M66 91 C84 84 100 90 118 108"/><path d="M70 80 C90 74 112 82 130 100"/><path d="M100 100 C112 108 122 118 130 130"/><path d="M108 98 C120 106 130 118 136 128"/><path d="M22 134 C40 142 60 146 82 142"/><path d="M24 140 C42 150 62 152 80 148"/><path d="M28 148 C44 156 60 158 74 156"/><path d="M84 142 C92 132 100 134 104 144 C108 152 116 154 124 150"/><path d="M30 104 C40 110 52 118 60 130"/></g><g filter="url(#bl05)" fill="#2e2e2e"><circle cx="77.7" cy="30.4" r="2.6"/><circle cx="48" cy="50.7" r="2.6"/><circle cx="118" cy="50" r="1.6"/><circle cx="112" cy="126" r="1.8"/></g></g><g filter="url(#bl08)" opacity="0.55"><path d="M86 2 C120 0 150 25 160 55 C170 85 168 120 158 140 C148 160 130 168 112 170 C104 171 98 168 95 172 C92 178 90 184 84 182 C70 178 50 168 36 150 C18 128 6 105 6 80 C6 45 40 4 86 2 Z" fill="none" stroke="#141414" stroke-width="2.4"/></g></g></g>
<g id="img_b1" transform="translate(58.0 263.3)"><g clip-path="url(#cp_b1)"><g filter="url(#gr_b1)"><rect x="-5" y="-5" width="227.0" height="168.6" fill="#8f8f8f"/><g filter="url(#bl05)"><g stroke="#6a6a6a" stroke-width="0.7"><ellipse cx="55" cy="135" rx="1.9" ry="2.1" fill="#e4e4e4" transform="rotate(97 55 135)"/><ellipse cx="179" cy="82" rx="2.4" ry="2.7" fill="#e4e4e4" transform="rotate(174 179 82)"/><ellipse cx="62" cy="26" rx="2.4" ry="2.7" fill="#e4e4e4" transform="rotate(57 62 26)"/><ellipse cx="17" cy="112" rx="1.1" ry="2.0" fill="#d6d6d6" transform="rotate(40 17 112)"/><ellipse cx="70" cy="32" rx="1.1" ry="1.8" fill="#bcbcbc" transform="rotate(10 70 32)"/><ellipse cx="210" cy="40" rx="2.5" ry="4.7" fill="#bcbcbc" transform="rotate(78 210 40)"/><ellipse cx="8" cy="91" rx="3.0" ry="3.9" fill="#c8c8c8" transform="rotate(149 8 91)"/><ellipse cx="182" cy="76" rx="2.8" ry="5.1" fill="#c8c8c8" transform="rotate(112 182 76)"/><ellipse cx="163" cy="158" rx="1.5" ry="2.3" fill="#bcbcbc" transform="rotate(97 163 158)"/><ellipse cx="109" cy="157" rx="3.2" ry="5.4" fill="#d6d6d6" transform="rotate(75 109 157)"/><ellipse cx="38" cy="65" rx="2.6" ry="5.0" fill="#e4e4e4" transform="rotate(113 38 65)"/><ellipse cx="99" cy="58" rx="3.3" ry="3.3" fill="#bcbcbc" transform="rotate(150 99 58)"/><ellipse cx="75" cy="100" rx="2.4" ry="3.1" fill="#e4e4e4" transform="rotate(35 75 100)"/><ellipse cx="42" cy="8" rx="2.7" ry="3.2" fill="#bcbcbc" transform="rotate(1 42 8)"/><ellipse cx="178" cy="119" rx="2.2" ry="2.5" fill="#bcbcbc" transform="rotate(40 178 119)"/><ellipse cx="6" cy="36" rx="2.6" ry="2.8" fill="#e4e4e4" transform="rotate(38 6 36)"/><ellipse cx="129" cy="117" rx="3.5" ry="3.2" fill="#c8c8c8" transform="rotate(106 129 117)"/><ellipse cx="196" cy="79" rx="2.3" ry="3.9" fill="#d6d6d6" transform="rotate(151 196 79)"/><ellipse cx="38" cy="8" rx="3.6" ry="4.7" fill="#c8c8c8" transform="rotate(58 38 8)"/><ellipse cx="21" cy="57" rx="2.5" ry="2.0" fill="#d6d6d6" transform="rotate(92 21 57)"/><ellipse cx="90" cy="2" rx="3.4" ry="2.6" fill="#c8c8c8" transform="rotate(86 90 2)"/><ellipse cx="186" cy="152" rx="3.0" ry="5.1" fill="#e4e4e4" transform="rotate(95 186 152)"/><ellipse cx="98" cy="132" rx="2.2" ry="3.5" fill="#c8c8c8" transform="rotate(80 98 132)"/><ellipse cx="21" cy="27" rx="2.8" ry="4.6" fill="#c8c8c8" transform="rotate(64 21 27)"/><ellipse cx="41" cy="52" rx="2.2" ry="2.2" fill="#c8c8c8" transform="rotate(107 41 52)"/><ellipse cx="150" cy="7" rx="2.9" ry="2.1" fill="#d6d6d6" transform="rotate(129 150 7)"/><ellipse cx="186" cy="130" rx="3.0" ry="5.7" fill="#c8c8c8" transform="rotate(11 186 130)"/><ellipse cx="212" cy="132" rx="1.9" ry="1.8" fill="#c8c8c8" transform="rotate(109 212 132)"/><ellipse cx="23" cy="87" rx="2.9" ry="4.7" fill="#d6d6d6" transform="rotate(32 23 87)"/><ellipse cx="166" cy="6" rx="3.0" ry="4.7" fill="#d6d6d6" transform="rotate(92 166 6)"/><ellipse cx="164" cy="103" rx="3.5" ry="5.2" fill="#d6d6d6" transform="rotate(146 164 103)"/><ellipse cx="62" cy="56" rx="3.4" ry="5.5" fill="#d6d6d6" transform="rotate(139 62 56)"/><ellipse cx="149" cy="97" rx="2.0" ry="2.2" fill="#d6d6d6" transform="rotate(165 149 97)"/><ellipse cx="43" cy="87" rx="2.2" ry="2.9" fill="#c8c8c8" transform="rotate(118 43 87)"/><ellipse cx="147" cy="41" rx="2.7" ry="4.1" fill="#e4e4e4" transform="rotate(147 147 41)"/><ellipse cx="73" cy="55" rx="1.7" ry="2.5" fill="#bcbcbc" transform="rotate(124 73 55)"/><ellipse cx="75" cy="81" rx="2.3" ry="2.8" fill="#e4e4e4" transform="rotate(154 75 81)"/><ellipse cx="171" cy="23" rx="1.7" ry="1.7" fill="#d6d6d6" transform="rotate(47 171 23)"/><ellipse cx="76" cy="130" rx="2.0" ry="3.4" fill="#c8c8c8" transform="rotate(56 76 130)"/><ellipse cx="76" cy="125" rx="2.6" ry="3.6" fill="#d6d6d6" transform="rotate(119 76 125)"/><ellipse cx="71" cy="3" rx="1.8" ry="1.9" fill="#d6d6d6" transform="rotate(122 71 3)"/><ellipse cx="26" cy="62" rx="2.0" ry="2.8" fill="#e4e4e4" transform="rotate(53 26 62)"/><ellipse cx="1" cy="76" rx="3.3" ry="6.3" fill="#c8c8c8" transform="rotate(12 1 76)"/><ellipse cx="79" cy="39" rx="3.0" ry="2.6" fill="#c8c8c8" transform="rotate(94 79 39)"/><ellipse cx="146" cy="62" rx="1.5" ry="2.9" fill="#c8c8c8" transform="rotate(138 146 62)"/><ellipse cx="56" cy="38" rx="3.3" ry="5.8" fill="#bcbcbc" transform="rotate(149 56 38)"/><ellipse cx="134" cy="40" rx="2.1" ry="3.3" fill="#c8c8c8" transform="rotate(174 134 40)"/><ellipse cx="30" cy="144" rx="2.5" ry="2.9" fill="#d6d6d6" transform="rotate(156 30 144)"/><ellipse cx="177" cy="54" rx="2.7" ry="5.1" fill="#e4e4e4" transform="rotate(49 177 54)"/><ellipse cx="111" cy="19" rx="2.8" ry="2.3" fill="#c8c8c8" transform="rotate(1 111 19)"/><ellipse cx="48" cy="129" rx="1.8" ry="2.8" fill="#e4e4e4" transform="rotate(165 48 129)"/><ellipse cx="113" cy="116" rx="2.0" ry="1.9" fill="#d6d6d6" transform="rotate(143 113 116)"/><ellipse cx="125" cy="105" rx="2.8" ry="3.3" fill="#d6d6d6" transform="rotate(6 125 105)"/><ellipse cx="192" cy="51" rx="2.1" ry="1.6" fill="#c8c8c8" transform="rotate(168 192 51)"/><ellipse cx="206" cy="26" rx="2.5" ry="2.4" fill="#e4e4e4" transform="rotate(176 206 26)"/><ellipse cx="149" cy="144" rx="1.3" ry="1.2" fill="#e4e4e4" transform="rotate(20 149 144)"/><ellipse cx="51" cy="31" rx="2.9" ry="3.7" fill="#c8c8c8" transform="rotate(146 51 31)"/><ellipse cx="73" cy="57" rx="2.3" ry="3.0" fill="#c8c8c8" transform="rotate(119 73 57)"/><ellipse cx="203" cy="85" rx="2.3" ry="3.5" fill="#d6d6d6" transform="rotate(163 203 85)"/><ellipse cx="193" cy="29" rx="1.3" ry="0.8" fill="#d6d6d6" transform="rotate(108 193 29)"/><ellipse cx="42" cy="96" rx="1.6" ry="2.2" fill="#bcbcbc" transform="rotate(176 42 96)"/><ellipse cx="144" cy="132" rx="3.4" ry="4.0" fill="#c8c8c8" transform="rotate(2 144 132)"/><ellipse cx="77" cy="65" rx="1.9" ry="2.6" fill="#e4e4e4" transform="rotate(28 77 65)"/><ellipse cx="119" cy="146" rx="1.9" ry="2.4" fill="#c8c8c8" transform="rotate(63 119 146)"/><ellipse cx="188" cy="19" rx="1.9" ry="3.8" fill="#bcbcbc" transform="rotate(77 188 19)"/><ellipse cx="31" cy="42" rx="2.9" ry="4.5" fill="#c8c8c8" transform="rotate(17 31 42)"/><ellipse cx="169" cy="123" rx="2.2" ry="3.4" fill="#bcbcbc" transform="rotate(157 169 123)"/><ellipse cx="216" cy="18" rx="2.0" ry="3.7" fill="#c8c8c8" transform="rotate(8 216 18)"/><ellipse cx="165" cy="87" rx="2.7" ry="3.7" fill="#c8c8c8" transform="rotate(75 165 87)"/><ellipse cx="166" cy="64" rx="2.4" ry="2.4" fill="#bcbcbc" transform="rotate(23 166 64)"/><ellipse cx="105" cy="149" rx="2.3" ry="3.3" fill="#bcbcbc" transform="rotate(172 105 149)"/><ellipse cx="163" cy="31" rx="2.1" ry="2.9" fill="#c8c8c8" transform="rotate(95 163 31)"/><ellipse cx="112" cy="53" rx="1.7" ry="2.4" fill="#bcbcbc" transform="rotate(41 112 53)"/><ellipse cx="195" cy="97" rx="1.2" ry="2.0" fill="#c8c8c8" transform="rotate(31 195 97)"/><ellipse cx="83" cy="74" rx="3.3" ry="3.2" fill="#d6d6d6" transform="rotate(67 83 74)"/><ellipse cx="213" cy="135" rx="3.1" ry="2.3" fill="#bcbcbc" transform="rotate(129 213 135)"/><ellipse cx="101" cy="36" rx="1.7" ry="1.8" fill="#e4e4e4" transform="rotate(77 101 36)"/><ellipse cx="85" cy="119" rx="3.5" ry="4.5" fill="#e4e4e4" transform="rotate(32 85 119)"/><ellipse cx="168" cy="18" rx="2.2" ry="2.4" fill="#bcbcbc" transform="rotate(17 168 18)"/><ellipse cx="216" cy="146" rx="2.1" ry="1.9" fill="#e4e4e4" transform="rotate(16 216 146)"/><ellipse cx="69" cy="18" rx="3.0" ry="3.5" fill="#c8c8c8" transform="rotate(176 69 18)"/><ellipse cx="53" cy="109" rx="2.6" ry="5.1" fill="#bcbcbc" transform="rotate(128 53 109)"/><ellipse cx="70" cy="140" rx="2.4" ry="2.4" fill="#c8c8c8" transform="rotate(53 70 140)"/><ellipse cx="66" cy="82" rx="2.0" ry="2.9" fill="#bcbcbc" transform="rotate(31 66 82)"/><ellipse cx="125" cy="42" rx="2.6" ry="2.7" fill="#c8c8c8" transform="rotate(168 125 42)"/><ellipse cx="88" cy="16" rx="1.2" ry="1.8" fill="#d6d6d6" transform="rotate(110 88 16)"/><ellipse cx="199" cy="102" rx="1.1" ry="1.5" fill="#bcbcbc" transform="rotate(103 199 102)"/><ellipse cx="52" cy="13" rx="3.1" ry="3.7" fill="#e4e4e4" transform="rotate(21 52 13)"/><ellipse cx="41" cy="109" rx="3.2" ry="3.4" fill="#e4e4e4" transform="rotate(170 41 109)"/><ellipse cx="10" cy="120" rx="3.2" ry="5.7" fill="#e4e4e4" transform="rotate(142 10 120)"/><ellipse cx="210" cy="66" rx="2.2" ry="1.9" fill="#bcbcbc" transform="rotate(150 210 66)"/><ellipse cx="215" cy="109" rx="1.9" ry="1.5" fill="#e4e4e4" transform="rotate(62 215 109)"/><ellipse cx="106" cy="23" rx="2.6" ry="3.2" fill="#bcbcbc" transform="rotate(34 106 23)"/><ellipse cx="64" cy="15" rx="2.8" ry="3.9" fill="#d6d6d6" transform="rotate(8 64 15)"/><ellipse cx="21" cy="109" rx="3.4" ry="4.9" fill="#e4e4e4" transform="rotate(161 21 109)"/><ellipse cx="136" cy="24" rx="1.6" ry="2.0" fill="#bcbcbc" transform="rotate(78 136 24)"/><ellipse cx="193" cy="71" rx="1.3" ry="2.1" fill="#e4e4e4" transform="rotate(74 193 71)"/><ellipse cx="216" cy="4" rx="2.7" ry="2.6" fill="#e4e4e4" transform="rotate(148 216 4)"/><ellipse cx="97" cy="34" rx="1.5" ry="2.2" fill="#c8c8c8" transform="rotate(126 97 34)"/><ellipse cx="136" cy="17" rx="2.9" ry="3.0" fill="#e4e4e4" transform="rotate(132 136 17)"/><ellipse cx="29" cy="82" rx="2.7" ry="1.7" fill="#bcbcbc" transform="rotate(23 29 82)"/><ellipse cx="161" cy="38" rx="1.1" ry="1.8" fill="#e4e4e4" transform="rotate(61 161 38)"/><ellipse cx="64" cy="74" rx="3.4" ry="4.0" fill="#d6d6d6" transform="rotate(13 64 74)"/><ellipse cx="172" cy="128" rx="2.3" ry="4.3" fill="#bcbcbc" transform="rotate(163 172 128)"/><ellipse cx="117" cy="6" rx="2.5" ry="5.0" fill="#d6d6d6" transform="rotate(122 117 6)"/><ellipse cx="158" cy="45" rx="1.6" ry="1.8" fill="#d6d6d6" transform="rotate(86 158 45)"/><ellipse cx="136" cy="92" rx="2.0" ry="3.4" fill="#e4e4e4" transform="rotate(34 136 92)"/><ellipse cx="205" cy="104" rx="3.2" ry="3.0" fill="#e4e4e4" transform="rotate(137 205 104)"/><ellipse cx="3" cy="157" rx="1.7" ry="1.9" fill="#e4e4e4" transform="rotate(77 3 157)"/><ellipse cx="95" cy="23" rx="3.0" ry="2.1" fill="#d6d6d6" transform="rotate(147 95 23)"/><ellipse cx="44" cy="39" rx="1.4" ry="1.7" fill="#d6d6d6" transform="rotate(23 44 39)"/><ellipse cx="97" cy="131" rx="1.8" ry="2.1" fill="#bcbcbc" transform="rotate(72 97 131)"/><ellipse cx="5" cy="76" rx="3.6" ry="7.0" fill="#d6d6d6" transform="rotate(50 5 76)"/><ellipse cx="93" cy="89" rx="1.4" ry="1.0" fill="#d6d6d6" transform="rotate(7 93 89)"/><ellipse cx="118" cy="123" rx="2.7" ry="3.4" fill="#bcbcbc" transform="rotate(20 118 123)"/><ellipse cx="196" cy="38" rx="1.4" ry="2.2" fill="#e4e4e4" transform="rotate(41 196 38)"/><ellipse cx="194" cy="70" rx="3.0" ry="2.5" fill="#bcbcbc" transform="rotate(121 194 70)"/><ellipse cx="116" cy="98" rx="3.2" ry="3.7" fill="#e4e4e4" transform="rotate(168 116 98)"/><ellipse cx="83" cy="57" rx="2.9" ry="4.4" fill="#d6d6d6" transform="rotate(2 83 57)"/><ellipse cx="38" cy="37" rx="2.3" ry="2.7" fill="#c8c8c8" transform="rotate(14 38 37)"/><ellipse cx="201" cy="135" rx="2.2" ry="2.8" fill="#d6d6d6" transform="rotate(63 201 135)"/><ellipse cx="186" cy="21" rx="1.3" ry="1.6" fill="#e4e4e4" transform="rotate(138 186 21)"/><ellipse cx="159" cy="64" rx="1.0" ry="1.9" fill="#c8c8c8" transform="rotate(83 159 64)"/><ellipse cx="29" cy="150" rx="2.1" ry="3.0" fill="#bcbcbc" transform="rotate(74 29 150)"/><ellipse cx="65" cy="6" rx="2.2" ry="2.6" fill="#bcbcbc" transform="rotate(177 65 6)"/><ellipse cx="175" cy="158" rx="2.7" ry="3.5" fill="#d6d6d6" transform="rotate(121 175 158)"/><ellipse cx="79" cy="79" rx="3.2" ry="3.2" fill="#d6d6d6" transform="rotate(15 79 79)"/><ellipse cx="20" cy="55" rx="3.3" ry="3.7" fill="#bcbcbc" transform="rotate(36 20 55)"/><ellipse cx="4" cy="16" rx="2.7" ry="4.5" fill="#e4e4e4" transform="rotate(140 4 16)"/><ellipse cx="132" cy="37" rx="3.1" ry="2.3" fill="#c8c8c8" transform="rotate(5 132 37)"/><ellipse cx="159" cy="110" rx="3.5" ry="6.2" fill="#d6d6d6" transform="rotate(12 159 110)"/><ellipse cx="49" cy="135" rx="2.7" ry="1.7" fill="#d6d6d6" transform="rotate(176 49 135)"/><ellipse cx="209" cy="39" rx="1.2" ry="1.5" fill="#e4e4e4" transform="rotate(23 209 39)"/><ellipse cx="93" cy="87" rx="2.3" ry="3.9" fill="#d6d6d6" transform="rotate(79 93 87)"/><ellipse cx="17" cy="72" rx="2.2" ry="2.0" fill="#d6d6d6" transform="rotate(65 17 72)"/><ellipse cx="198" cy="20" rx="3.3" ry="4.0" fill="#bcbcbc" transform="rotate(27 198 20)"/><ellipse cx="181" cy="40" rx="1.8" ry="1.7" fill="#d6d6d6" transform="rotate(160 181 40)"/><ellipse cx="178" cy="152" rx="2.5" ry="4.6" fill="#e4e4e4" transform="rotate(37 178 152)"/><ellipse cx="201" cy="112" rx="2.8" ry="3.2" fill="#d6d6d6" transform="rotate(176 201 112)"/><ellipse cx="28" cy="38" rx="1.9" ry="1.5" fill="#bcbcbc" transform="rotate(156 28 38)"/><ellipse cx="144" cy="78" rx="2.4" ry="3.1" fill="#bcbcbc" transform="rotate(10 144 78)"/><ellipse cx="171" cy="129" rx="1.1" ry="1.3" fill="#e4e4e4" transform="rotate(76 171 129)"/><ellipse cx="164" cy="7" rx="3.4" ry="2.4" fill="#bcbcbc" transform="rotate(114 164 7)"/><ellipse cx="62" cy="102" rx="3.1" ry="5.0" fill="#bcbcbc" transform="rotate(3 62 102)"/><ellipse cx="72" cy="7" rx="1.4" ry="1.4" fill="#e4e4e4" transform="rotate(132 72 7)"/><ellipse cx="42" cy="149" rx="1.2" ry="2.0" fill="#e4e4e4" transform="rotate(150 42 149)"/><ellipse cx="30" cy="141" rx="3.5" ry="6.1" fill="#bcbcbc" transform="rotate(167 30 141)"/><ellipse cx="147" cy="49" rx="1.8" ry="1.4" fill="#d6d6d6" transform="rotate(139 147 49)"/><ellipse cx="158" cy="83" rx="3.2" ry="6.1" fill="#c8c8c8" transform="rotate(48 158 83)"/><ellipse cx="62" cy="61" rx="3.2" ry="3.7" fill="#d6d6d6" transform="rotate(77 62 61)"/><ellipse cx="198" cy="114" rx="3.2" ry="5.8" fill="#bcbcbc" transform="rotate(98 198 114)"/><ellipse cx="205" cy="3" rx="2.7" ry="2.9" fill="#bcbcbc" transform="rotate(176 205 3)"/><ellipse cx="161" cy="21" rx="1.4" ry="2.3" fill="#e4e4e4" transform="rotate(48 161 21)"/><ellipse cx="159" cy="48" rx="3.6" ry="3.3" fill="#c8c8c8" transform="rotate(78 159 48)"/><ellipse cx="107" cy="134" rx="3.5" ry="2.2" fill="#d6d6d6" transform="rotate(155 107 134)"/><ellipse cx="79" cy="4" rx="1.7" ry="1.2" fill="#c8c8c8" transform="rotate(31 79 4)"/><ellipse cx="51" cy="28" rx="2.9" ry="3.4" fill="#e4e4e4" transform="rotate(53 51 28)"/><ellipse cx="188" cy="47" rx="2.1" ry="2.4" fill="#d6d6d6" transform="rotate(71 188 47)"/><ellipse cx="153" cy="75" rx="2.5" ry="3.1" fill="#d6d6d6" transform="rotate(10 153 75)"/><ellipse cx="12" cy="37" rx="2.3" ry="2.6" fill="#e4e4e4" transform="rotate(114 12 37)"/><ellipse cx="97" cy="82" rx="2.5" ry="3.9" fill="#bcbcbc" transform="rotate(41 97 82)"/><ellipse cx="7" cy="105" rx="1.9" ry="3.5" fill="#d6d6d6" transform="rotate(61 7 105)"/><ellipse cx="198" cy="75" rx="1.8" ry="2.3" fill="#bcbcbc" transform="rotate(78 198 75)"/><ellipse cx="93" cy="51" rx="1.2" ry="0.9" fill="#e4e4e4" transform="rotate(147 93 51)"/><ellipse cx="27" cy="66" rx="3.5" ry="5.2" fill="#d6d6d6" transform="rotate(148 27 66)"/><ellipse cx="72" cy="64" rx="2.9" ry="2.6" fill="#c8c8c8" transform="rotate(62 72 64)"/><ellipse cx="50" cy="111" rx="2.9" ry="3.3" fill="#e4e4e4" transform="rotate(75 50 111)"/><ellipse cx="11" cy="43" rx="2.4" ry="2.2" fill="#e4e4e4" transform="rotate(146 11 43)"/><ellipse cx="7" cy="65" rx="2.0" ry="2.2" fill="#e4e4e4" transform="rotate(97 7 65)"/><ellipse cx="32" cy="60" rx="2.3" ry="3.8" fill="#e4e4e4" transform="rotate(77 32 60)"/><ellipse cx="207" cy="113" rx="1.4" ry="1.5" fill="#bcbcbc" transform="rotate(110 207 113)"/><ellipse cx="205" cy="23" rx="1.4" ry="2.4" fill="#bcbcbc" transform="rotate(153 205 23)"/><ellipse cx="54" cy="38" rx="2.8" ry="5.3" fill="#e4e4e4" transform="rotate(23 54 38)"/><ellipse cx="186" cy="86" rx="1.7" ry="1.6" fill="#c8c8c8" transform="rotate(35 186 86)"/><ellipse cx="43" cy="70" rx="3.0" ry="3.7" fill="#bcbcbc" transform="rotate(5 43 70)"/><ellipse cx="82" cy="14" rx="1.1" ry="1.5" fill="#bcbcbc" transform="rotate(109 82 14)"/><ellipse cx="58" cy="132" rx="1.8" ry="1.8" fill="#e4e4e4" transform="rotate(108 58 132)"/><ellipse cx="109" cy="45" rx="3.0" ry="4.7" fill="#c8c8c8" transform="rotate(31 109 45)"/><ellipse cx="46" cy="78" rx="3.6" ry="6.8" fill="#bcbcbc" transform="rotate(62 46 78)"/><ellipse cx="172" cy="65" rx="2.5" ry="2.1" fill="#d6d6d6" transform="rotate(96 172 65)"/><ellipse cx="175" cy="18" rx="2.7" ry="3.7" fill="#c8c8c8" transform="rotate(115 175 18)"/><ellipse cx="174" cy="8" rx="1.1" ry="1.6" fill="#c8c8c8" transform="rotate(25 174 8)"/><ellipse cx="75" cy="150" rx="2.0" ry="3.3" fill="#c8c8c8" transform="rotate(58 75 150)"/><ellipse cx="56" cy="96" rx="1.8" ry="3.4" fill="#c8c8c8" transform="rotate(132 56 96)"/><ellipse cx="113" cy="151" rx="2.2" ry="2.6" fill="#e4e4e4" transform="rotate(9 113 151)"/><ellipse cx="90" cy="57" rx="1.1" ry="0.7" fill="#c8c8c8" transform="rotate(91 90 57)"/><ellipse cx="67" cy="18" rx="1.5" ry="2.5" fill="#d6d6d6" transform="rotate(110 67 18)"/><ellipse cx="49" cy="18" rx="3.5" ry="3.4" fill="#bcbcbc" transform="rotate(22 49 18)"/><ellipse cx="167" cy="9" rx="3.2" ry="2.3" fill="#d6d6d6" transform="rotate(3 167 9)"/><ellipse cx="157" cy="44" rx="3.6" ry="4.7" fill="#c8c8c8" transform="rotate(115 157 44)"/><ellipse cx="21" cy="104" rx="2.0" ry="3.5" fill="#c8c8c8" transform="rotate(151 21 104)"/><ellipse cx="192" cy="87" rx="3.1" ry="2.6" fill="#bcbcbc" transform="rotate(103 192 87)"/><ellipse cx="156" cy="45" rx="1.8" ry="1.8" fill="#bcbcbc" transform="rotate(167 156 45)"/><ellipse cx="43" cy="136" rx="1.9" ry="3.8" fill="#bcbcbc" transform="rotate(89 43 136)"/><ellipse cx="7" cy="158" rx="1.7" ry="2.5" fill="#d6d6d6" transform="rotate(152 7 158)"/><ellipse cx="200" cy="53" rx="3.1" ry="2.9" fill="#d6d6d6" transform="rotate(3 200 53)"/><ellipse cx="143" cy="112" rx="1.5" ry="1.7" fill="#bcbcbc" transform="rotate(30 143 112)"/><ellipse cx="143" cy="132" rx="3.3" ry="2.1" fill="#bcbcbc" transform="rotate(145 143 132)"/><ellipse cx="5" cy="136" rx="1.3" ry="1.8" fill="#c8c8c8" transform="rotate(125 5 136)"/><ellipse cx="131" cy="3" rx="1.1" ry="1.6" fill="#c8c8c8" transform="rotate(74 131 3)"/><ellipse cx="131" cy="11" rx="1.4" ry="2.2" fill="#c8c8c8" transform="rotate(173 131 11)"/><ellipse cx="64" cy="106" rx="2.4" ry="2.5" fill="#bcbcbc" transform="rotate(135 64 106)"/><ellipse cx="4" cy="56" rx="3.0" ry="5.5" fill="#e4e4e4" transform="rotate(93 4 56)"/><ellipse cx="10" cy="34" rx="2.8" ry="4.8" fill="#c8c8c8" transform="rotate(45 10 34)"/><ellipse cx="1" cy="79" rx="3.6" ry="3.0" fill="#e4e4e4" transform="rotate(171 1 79)"/><ellipse cx="149" cy="16" rx="3.0" ry="5.5" fill="#e4e4e4" transform="rotate(113 149 16)"/><ellipse cx="143" cy="96" rx="1.5" ry="1.3" fill="#bcbcbc" transform="rotate(18 143 96)"/><ellipse cx="27" cy="10" rx="3.5" ry="5.2" fill="#d6d6d6" transform="rotate(122 27 10)"/><ellipse cx="92" cy="40" rx="2.5" ry="1.9" fill="#e4e4e4" transform="rotate(61 92 40)"/><ellipse cx="177" cy="140" rx="1.0" ry="1.8" fill="#d6d6d6" transform="rotate(165 177 140)"/></g><g stroke="#565656" stroke-width="0.8"><ellipse cx="126" cy="31" rx="3.5" ry="7.3" fill="#7a7a7a" transform="rotate(84 126 31)"/><ellipse cx="131" cy="146" rx="2.4" ry="4.5" fill="#6a6a6a" transform="rotate(59 131 146)"/><ellipse cx="15" cy="31" rx="1.5" ry="2.8" fill="#6a6a6a" transform="rotate(65 15 31)"/><ellipse cx="171" cy="38" rx="3.1" ry="4.2" fill="#6a6a6a" transform="rotate(11 171 38)"/><ellipse cx="66" cy="18" rx="3.2" ry="5.5" fill="#848484" transform="rotate(119 66 18)"/><ellipse cx="86" cy="60" rx="2.3" ry="3.0" fill="#727272" transform="rotate(120 86 60)"/><ellipse cx="189" cy="34" rx="1.5" ry="2.9" fill="#848484" transform="rotate(66 189 34)"/><ellipse cx="2" cy="90" rx="1.7" ry="1.2" fill="#727272" transform="rotate(32 2 90)"/><ellipse cx="166" cy="64" rx="3.6" ry="7.0" fill="#6a6a6a" transform="rotate(161 166 64)"/><ellipse cx="39" cy="84" rx="3.3" ry="7.0" fill="#848484" transform="rotate(11 39 84)"/><ellipse cx="116" cy="111" rx="2.3" ry="4.5" fill="#6a6a6a" transform="rotate(121 116 111)"/><ellipse cx="160" cy="142" rx="2.3" ry="4.7" fill="#7a7a7a" transform="rotate(25 160 142)"/><ellipse cx="192" cy="54" rx="1.5" ry="2.2" fill="#848484" transform="rotate(124 192 54)"/><ellipse cx="100" cy="31" rx="2.9" ry="3.4" fill="#7a7a7a" transform="rotate(50 100 31)"/><ellipse cx="54" cy="32" rx="1.6" ry="3.4" fill="#848484" transform="rotate(162 54 32)"/><ellipse cx="212" cy="28" rx="1.3" ry="1.7" fill="#727272" transform="rotate(110 212 28)"/><ellipse cx="175" cy="38" rx="1.9" ry="3.3" fill="#848484" transform="rotate(99 175 38)"/><ellipse cx="73" cy="149" rx="2.0" ry="3.4" fill="#6a6a6a" transform="rotate(160 73 149)"/><ellipse cx="112" cy="34" rx="2.8" ry="2.6" fill="#727272" transform="rotate(21 112 34)"/><ellipse cx="97" cy="105" rx="2.9" ry="4.9" fill="#7a7a7a" transform="rotate(65 97 105)"/><ellipse cx="69" cy="107" rx="3.0" ry="3.2" fill="#6a6a6a" transform="rotate(78 69 107)"/><ellipse cx="211" cy="119" rx="1.9" ry="2.9" fill="#6a6a6a" transform="rotate(61 211 119)"/><ellipse cx="95" cy="8" rx="2.6" ry="2.6" fill="#6a6a6a" transform="rotate(6 95 8)"/><ellipse cx="212" cy="98" rx="3.2" ry="2.3" fill="#848484" transform="rotate(166 212 98)"/><ellipse cx="167" cy="151" rx="2.4" ry="4.6" fill="#727272" transform="rotate(114 167 151)"/><ellipse cx="150" cy="42" rx="2.8" ry="4.8" fill="#6a6a6a" transform="rotate(175 150 42)"/><ellipse cx="74" cy="116" rx="1.6" ry="2.9" fill="#848484" transform="rotate(75 74 116)"/><ellipse cx="1" cy="57" rx="2.8" ry="4.2" fill="#7a7a7a" transform="rotate(176 1 57)"/><ellipse cx="141" cy="27" rx="3.4" ry="6.4" fill="#7a7a7a" transform="rotate(133 141 27)"/><ellipse cx="97" cy="6" rx="1.7" ry="2.6" fill="#7a7a7a" transform="rotate(128 97 6)"/><ellipse cx="3" cy="143" rx="2.5" ry="2.2" fill="#7a7a7a" transform="rotate(118 3 143)"/><ellipse cx="24" cy="157" rx="2.3" ry="3.6" fill="#727272" transform="rotate(157 24 157)"/><ellipse cx="216" cy="64" rx="1.6" ry="1.3" fill="#727272" transform="rotate(51 216 64)"/><ellipse cx="214" cy="47" rx="1.8" ry="3.3" fill="#6a6a6a" transform="rotate(69 214 47)"/><ellipse cx="200" cy="120" rx="3.5" ry="4.1" fill="#848484" transform="rotate(5 200 120)"/><ellipse cx="84" cy="38" rx="1.9" ry="2.4" fill="#6a6a6a" transform="rotate(107 84 38)"/><ellipse cx="95" cy="147" rx="3.3" ry="6.1" fill="#7a7a7a" transform="rotate(136 95 147)"/><ellipse cx="71" cy="6" rx="2.0" ry="2.2" fill="#6a6a6a" transform="rotate(136 71 6)"/><ellipse cx="144" cy="102" rx="2.9" ry="3.6" fill="#6a6a6a" transform="rotate(142 144 102)"/><ellipse cx="134" cy="155" rx="3.3" ry="2.5" fill="#727272" transform="rotate(120 134 155)"/><ellipse cx="38" cy="3" rx="2.4" ry="5.2" fill="#6a6a6a" transform="rotate(153 38 3)"/><ellipse cx="9" cy="9" rx="1.3" ry="1.2" fill="#727272" transform="rotate(177 9 9)"/><ellipse cx="199" cy="30" rx="2.9" ry="5.5" fill="#848484" transform="rotate(130 199 30)"/><ellipse cx="80" cy="130" rx="1.8" ry="2.9" fill="#7a7a7a" transform="rotate(153 80 130)"/><ellipse cx="164" cy="82" rx="2.4" ry="5.0" fill="#727272" transform="rotate(75 164 82)"/><ellipse cx="12" cy="17" rx="2.9" ry="5.4" fill="#6a6a6a" transform="rotate(88 12 17)"/><ellipse cx="136" cy="99" rx="1.6" ry="3.4" fill="#7a7a7a" transform="rotate(43 136 99)"/><ellipse cx="167" cy="118" rx="2.2" ry="3.6" fill="#727272" transform="rotate(86 167 118)"/><ellipse cx="192" cy="72" rx="3.2" ry="6.2" fill="#727272" transform="rotate(29 192 72)"/><ellipse cx="120" cy="37" rx="3.0" ry="6.7" fill="#6a6a6a" transform="rotate(96 120 37)"/><ellipse cx="161" cy="121" rx="3.4" ry="2.7" fill="#727272" transform="rotate(133 161 121)"/><ellipse cx="3" cy="41" rx="2.9" ry="4.4" fill="#848484" transform="rotate(101 3 41)"/><ellipse cx="115" cy="92" rx="2.9" ry="3.1" fill="#727272" transform="rotate(101 115 92)"/><ellipse cx="42" cy="8" rx="1.7" ry="2.4" fill="#6a6a6a" transform="rotate(109 42 8)"/><ellipse cx="108" cy="48" rx="1.6" ry="1.5" fill="#727272" transform="rotate(76 108 48)"/><ellipse cx="16" cy="40" rx="2.8" ry="2.0" fill="#7a7a7a" transform="rotate(57 16 40)"/><ellipse cx="58" cy="148" rx="2.8" ry="6.0" fill="#6a6a6a" transform="rotate(155 58 148)"/><ellipse cx="53" cy="137" rx="2.0" ry="3.8" fill="#848484" transform="rotate(104 53 137)"/><ellipse cx="204" cy="135" rx="2.2" ry="2.3" fill="#848484" transform="rotate(54 204 135)"/><ellipse cx="112" cy="67" rx="3.1" ry="5.3" fill="#727272" transform="rotate(26 112 67)"/><ellipse cx="82" cy="84" rx="3.2" ry="6.0" fill="#7a7a7a" transform="rotate(32 82 84)"/><ellipse cx="97" cy="147" rx="1.8" ry="1.5" fill="#6a6a6a" transform="rotate(74 97 147)"/><ellipse cx="190" cy="2" rx="1.7" ry="1.5" fill="#6a6a6a" transform="rotate(107 190 2)"/><ellipse cx="13" cy="113" rx="2.1" ry="1.7" fill="#848484" transform="rotate(31 13 113)"/><ellipse cx="12" cy="58" rx="2.9" ry="3.0" fill="#6a6a6a" transform="rotate(156 12 58)"/><ellipse cx="152" cy="37" rx="2.1" ry="1.5" fill="#7a7a7a" transform="rotate(83 152 37)"/><ellipse cx="67" cy="70" rx="1.5" ry="2.5" fill="#727272" transform="rotate(63 67 70)"/><ellipse cx="151" cy="55" rx="1.4" ry="1.1" fill="#848484" transform="rotate(62 151 55)"/><ellipse cx="210" cy="9" rx="3.1" ry="4.4" fill="#848484" transform="rotate(53 210 9)"/><ellipse cx="116" cy="144" rx="1.6" ry="2.4" fill="#727272" transform="rotate(48 116 144)"/><ellipse cx="192" cy="23" rx="2.9" ry="2.1" fill="#6a6a6a" transform="rotate(33 192 23)"/><ellipse cx="145" cy="94" rx="2.2" ry="2.6" fill="#7a7a7a" transform="rotate(26 145 94)"/><ellipse cx="94" cy="10" rx="2.0" ry="4.4" fill="#848484" transform="rotate(35 94 10)"/><ellipse cx="170" cy="12" rx="2.9" ry="3.3" fill="#848484" transform="rotate(55 170 12)"/><ellipse cx="33" cy="3" rx="1.8" ry="3.2" fill="#848484" transform="rotate(95 33 3)"/><ellipse cx="137" cy="63" rx="2.4" ry="4.3" fill="#6a6a6a" transform="rotate(72 137 63)"/><ellipse cx="84" cy="151" rx="3.0" ry="2.4" fill="#848484" transform="rotate(19 84 151)"/><ellipse cx="119" cy="122" rx="1.5" ry="1.5" fill="#6a6a6a" transform="rotate(3 119 122)"/><ellipse cx="35" cy="14" rx="3.1" ry="6.5" fill="#7a7a7a" transform="rotate(106 35 14)"/><ellipse cx="163" cy="129" rx="3.5" ry="4.9" fill="#848484" transform="rotate(160 163 129)"/><ellipse cx="73" cy="155" rx="3.5" ry="3.3" fill="#848484" transform="rotate(135 73 155)"/><ellipse cx="9" cy="148" rx="2.9" ry="3.6" fill="#727272" transform="rotate(109 9 148)"/><ellipse cx="88" cy="106" rx="2.3" ry="3.4" fill="#727272" transform="rotate(150 88 106)"/><ellipse cx="192" cy="32" rx="1.7" ry="1.4" fill="#6a6a6a" transform="rotate(70 192 32)"/><ellipse cx="114" cy="52" rx="2.5" ry="2.0" fill="#727272" transform="rotate(17 114 52)"/><ellipse cx="89" cy="85" rx="2.4" ry="4.0" fill="#848484" transform="rotate(153 89 85)"/><ellipse cx="114" cy="87" rx="2.9" ry="2.9" fill="#7a7a7a" transform="rotate(120 114 87)"/><ellipse cx="204" cy="111" rx="1.4" ry="3.0" fill="#727272" transform="rotate(130 204 111)"/><ellipse cx="28" cy="32" rx="1.8" ry="1.5" fill="#7a7a7a" transform="rotate(8 28 32)"/><ellipse cx="133" cy="102" rx="2.4" ry="3.7" fill="#848484" transform="rotate(20 133 102)"/><ellipse cx="167" cy="38" rx="2.0" ry="1.5" fill="#7a7a7a" transform="rotate(141 167 38)"/><ellipse cx="203" cy="95" rx="3.1" ry="6.2" fill="#727272" transform="rotate(21 203 95)"/><ellipse cx="16" cy="22" rx="2.7" ry="4.8" fill="#848484" transform="rotate(141 16 22)"/><ellipse cx="138" cy="99" rx="3.1" ry="6.3" fill="#727272" transform="rotate(23 138 99)"/><ellipse cx="108" cy="102" rx="3.1" ry="2.7" fill="#7a7a7a" transform="rotate(87 108 102)"/><ellipse cx="156" cy="129" rx="2.6" ry="4.7" fill="#7a7a7a" transform="rotate(42 156 129)"/><ellipse cx="40" cy="71" rx="3.5" ry="3.7" fill="#7a7a7a" transform="rotate(6 40 71)"/><ellipse cx="40" cy="76" rx="2.6" ry="3.9" fill="#6a6a6a" transform="rotate(20 40 76)"/><ellipse cx="211" cy="56" rx="1.9" ry="2.0" fill="#848484" transform="rotate(61 211 56)"/><ellipse cx="202" cy="150" rx="1.7" ry="1.8" fill="#6a6a6a" transform="rotate(73 202 150)"/><ellipse cx="39" cy="103" rx="3.6" ry="4.3" fill="#727272" transform="rotate(42 39 103)"/><ellipse cx="4" cy="133" rx="2.1" ry="2.2" fill="#727272" transform="rotate(93 4 133)"/><ellipse cx="54" cy="147" rx="1.7" ry="1.2" fill="#6a6a6a" transform="rotate(50 54 147)"/><ellipse cx="175" cy="108" rx="3.1" ry="6.5" fill="#727272" transform="rotate(11 175 108)"/><ellipse cx="176" cy="113" rx="2.6" ry="5.7" fill="#6a6a6a" transform="rotate(0 176 113)"/><ellipse cx="17" cy="158" rx="2.1" ry="4.0" fill="#6a6a6a" transform="rotate(141 17 158)"/><ellipse cx="15" cy="78" rx="2.4" ry="3.9" fill="#848484" transform="rotate(26 15 78)"/><ellipse cx="118" cy="156" rx="2.8" ry="4.6" fill="#848484" transform="rotate(125 118 156)"/><ellipse cx="149" cy="156" rx="2.2" ry="3.2" fill="#848484" transform="rotate(20 149 156)"/><ellipse cx="188" cy="81" rx="3.2" ry="2.7" fill="#6a6a6a" transform="rotate(49 188 81)"/><ellipse cx="69" cy="138" rx="2.9" ry="4.7" fill="#7a7a7a" transform="rotate(87 69 138)"/><ellipse cx="199" cy="94" rx="1.6" ry="1.5" fill="#6a6a6a" transform="rotate(143 199 94)"/><ellipse cx="162" cy="75" rx="1.9" ry="3.8" fill="#727272" transform="rotate(152 162 75)"/><ellipse cx="103" cy="37" rx="2.0" ry="3.7" fill="#6a6a6a" transform="rotate(40 103 37)"/></g></g><g filter="url(#bl05)" stroke="#4a4a4a" stroke-width="0.8"><path d="M-2 120 L12 98 L30 70 L40 40 L50 22 L58 24 L50 50 L42 76 L24 104 L14 128 L-2 142 Z" fill="#e2e2e2"/><path d="M-2 60 L16 48 L30 52 L10 70 Z" fill="#d4d4d4"/><ellipse cx="60.5" cy="47.7" rx="10" ry="9" fill="#e6e6e6"/><ellipse cx="61" cy="49" rx="5" ry="5" fill="#777"/><ellipse cx="55" cy="33" rx="4.5" ry="5" fill="#7a7a7a"/><ellipse cx="29.5" cy="63" rx="5" ry="12" fill="#7a7a7a" transform="rotate(22 29.5 63)"/><ellipse cx="79.2" cy="65.4" rx="4.5" ry="14" fill="#7e7e7e" transform="rotate(-18 79.2 65.4)"/><ellipse cx="8" cy="62" rx="7" ry="9" fill="#7c7c7c"/><ellipse cx="34" cy="125" rx="8" ry="7" fill="#e0e0e0"/><ellipse cx="40.6" cy="138.3" rx="8" ry="6" fill="#e0e0e0"/><ellipse cx="13" cy="112" rx="5" ry="5" fill="#7c7c7c"/><ellipse cx="133" cy="127" rx="13" ry="14" fill="#dadada"/><ellipse cx="128" cy="143" rx="8" ry="6" fill="#d4d4d4"/><ellipse cx="168.7" cy="23.4" rx="7" ry="8" fill="#e0e0e0"/><ellipse cx="213" cy="56" rx="5" ry="8" fill="#e4e4e4"/><ellipse cx="142" cy="78" rx="26" ry="3.5" fill="#c8c8c8" transform="rotate(4 142 78)"/><ellipse cx="102" cy="4" rx="11" ry="4" fill="#dcdcdc"/><ellipse cx="140" cy="32" rx="16" ry="7" fill="#b8b8b8" transform="rotate(25 140 32)"/><path d="M146 160 L190 116 L194 120 L152 162 Z" fill="#cfcfcf"/><ellipse cx="160" cy="149" rx="12" ry="4" fill="#767676" transform="rotate(-32 160 149)"/><ellipse cx="185" cy="85" rx="14" ry="4.5" fill="#7c7c7c" transform="rotate(8 185 85)"/><ellipse cx="98" cy="135" rx="13" ry="9.5" fill="#d6d6d6" transform="rotate(-28 98 135)"/><ellipse cx="93" cy="141" rx="5" ry="4" fill="#808080"/><ellipse cx="108" cy="76" rx="7" ry="6" fill="#d8d8d8"/><ellipse cx="97" cy="74" rx="5" ry="7" fill="#dadada" transform="rotate(30 97 74)"/><ellipse cx="205" cy="132" rx="6" ry="6" fill="#d4d4d4"/><ellipse cx="208" cy="30" rx="10" ry="3" fill="#d8d8d8" transform="rotate(-25 208 30)"/></g></g><g fill="none" stroke="#0a0a0a" stroke-width="1.5"><ellipse cx="98" cy="135" rx="14.5" ry="10.5" transform="rotate(-28 98 135)"/><ellipse cx="159.8" cy="139.3" rx="5.6" ry="5" transform="rotate(-20 159.8 139.3)"/><path d="M1 44 C8 46 9 54 2 58" stroke-width="1.3"/></g><rect x="199.6" y="151.8" width="14.6" height="1.6" fill="#fff"/></g></g>
<g id="img_b2" transform="translate(58.0 432.2)"><g clip-path="url(#cp_b2)"><g filter="url(#gr_b2)"><rect x="-5" y="-5" width="227.0" height="168.9" fill="#848484"/><g filter="url(#bl05)"><g stroke="#606060" stroke-width="0.7"><ellipse cx="69" cy="55" rx="2.9" ry="2.7" fill="#dcdcdc" transform="rotate(82 69 55)"/><ellipse cx="93" cy="124" rx="2.2" ry="1.7" fill="#cacaca" transform="rotate(158 93 124)"/><ellipse cx="97" cy="26" rx="2.3" ry="2.0" fill="#b0b0b0" transform="rotate(88 97 26)"/><ellipse cx="146" cy="96" rx="2.6" ry="2.6" fill="#dcdcdc" transform="rotate(41 146 96)"/><ellipse cx="136" cy="82" rx="1.6" ry="1.5" fill="#cacaca" transform="rotate(14 136 82)"/><ellipse cx="116" cy="100" rx="2.1" ry="2.0" fill="#cacaca" transform="rotate(40 116 100)"/><ellipse cx="60" cy="29" rx="1.7" ry="3.4" fill="#cacaca" transform="rotate(72 60 29)"/><ellipse cx="44" cy="40" rx="1.7" ry="1.8" fill="#b0b0b0" transform="rotate(77 44 40)"/><ellipse cx="35" cy="14" rx="2.7" ry="1.7" fill="#bdbdbd" transform="rotate(94 35 14)"/><ellipse cx="1" cy="137" rx="2.8" ry="4.8" fill="#b0b0b0" transform="rotate(88 1 137)"/><ellipse cx="188" cy="101" rx="1.5" ry="1.6" fill="#cacaca" transform="rotate(161 188 101)"/><ellipse cx="15" cy="132" rx="1.7" ry="2.4" fill="#cacaca" transform="rotate(67 15 132)"/><ellipse cx="136" cy="88" rx="3.1" ry="5.5" fill="#b0b0b0" transform="rotate(19 136 88)"/><ellipse cx="211" cy="97" rx="1.5" ry="2.6" fill="#dcdcdc" transform="rotate(6 211 97)"/><ellipse cx="67" cy="48" rx="1.5" ry="2.9" fill="#b0b0b0" transform="rotate(51 67 48)"/><ellipse cx="214" cy="34" rx="1.5" ry="2.9" fill="#b0b0b0" transform="rotate(59 214 34)"/><ellipse cx="187" cy="37" rx="1.7" ry="3.3" fill="#cacaca" transform="rotate(61 187 37)"/><ellipse cx="208" cy="91" rx="1.7" ry="1.2" fill="#b0b0b0" transform="rotate(133 208 91)"/><ellipse cx="192" cy="10" rx="3.2" ry="5.9" fill="#cacaca" transform="rotate(176 192 10)"/><ellipse cx="135" cy="70" rx="1.4" ry="2.1" fill="#b0b0b0" transform="rotate(26 135 70)"/><ellipse cx="152" cy="28" rx="2.1" ry="2.9" fill="#cacaca" transform="rotate(15 152 28)"/><ellipse cx="103" cy="81" rx="2.0" ry="2.5" fill="#b0b0b0" transform="rotate(81 103 81)"/><ellipse cx="50" cy="117" rx="1.9" ry="1.9" fill="#dcdcdc" transform="rotate(64 50 117)"/><ellipse cx="70" cy="137" rx="2.1" ry="3.4" fill="#dcdcdc" transform="rotate(86 70 137)"/><ellipse cx="200" cy="75" rx="1.5" ry="2.8" fill="#cacaca" transform="rotate(46 200 75)"/><ellipse cx="115" cy="157" rx="2.7" ry="4.8" fill="#cacaca" transform="rotate(5 115 157)"/><ellipse cx="130" cy="125" rx="1.1" ry="1.5" fill="#bdbdbd" transform="rotate(130 130 125)"/><ellipse cx="198" cy="16" rx="3.3" ry="6.0" fill="#b0b0b0" transform="rotate(85 198 16)"/><ellipse cx="116" cy="104" rx="1.1" ry="1.0" fill="#b0b0b0" transform="rotate(57 116 104)"/><ellipse cx="93" cy="108" rx="1.5" ry="2.7" fill="#b0b0b0" transform="rotate(41 93 108)"/><ellipse cx="29" cy="39" rx="2.1" ry="3.0" fill="#bdbdbd" transform="rotate(52 29 39)"/><ellipse cx="103" cy="76" rx="1.3" ry="2.1" fill="#dcdcdc" transform="rotate(31 103 76)"/><ellipse cx="202" cy="48" rx="1.5" ry="1.6" fill="#b0b0b0" transform="rotate(44 202 48)"/><ellipse cx="203" cy="1" rx="3.3" ry="5.0" fill="#bdbdbd" transform="rotate(38 203 1)"/><ellipse cx="182" cy="133" rx="2.1" ry="2.2" fill="#dcdcdc" transform="rotate(167 182 133)"/><ellipse cx="60" cy="64" rx="2.5" ry="2.7" fill="#bdbdbd" transform="rotate(119 60 64)"/><ellipse cx="21" cy="126" rx="3.2" ry="5.2" fill="#b0b0b0" transform="rotate(15 21 126)"/><ellipse cx="95" cy="72" rx="2.4" ry="4.2" fill="#bdbdbd" transform="rotate(171 95 72)"/><ellipse cx="102" cy="107" rx="3.1" ry="5.9" fill="#b0b0b0" transform="rotate(150 102 107)"/><ellipse cx="91" cy="119" rx="3.3" ry="3.0" fill="#bdbdbd" transform="rotate(40 91 119)"/><ellipse cx="116" cy="138" rx="2.6" ry="3.0" fill="#cacaca" transform="rotate(5 116 138)"/><ellipse cx="101" cy="15" rx="3.1" ry="2.0" fill="#bdbdbd" transform="rotate(11 101 15)"/><ellipse cx="173" cy="134" rx="2.8" ry="3.1" fill="#bdbdbd" transform="rotate(98 173 134)"/><ellipse cx="210" cy="4" rx="1.8" ry="3.3" fill="#cacaca" transform="rotate(153 210 4)"/><ellipse cx="181" cy="110" rx="2.7" ry="4.6" fill="#b0b0b0" transform="rotate(162 181 110)"/><ellipse cx="144" cy="29" rx="3.1" ry="2.6" fill="#b0b0b0" transform="rotate(168 144 29)"/><ellipse cx="214" cy="53" rx="2.0" ry="1.5" fill="#cacaca" transform="rotate(97 214 53)"/><ellipse cx="70" cy="135" rx="1.2" ry="1.4" fill="#b0b0b0" transform="rotate(36 70 135)"/><ellipse cx="74" cy="108" rx="1.5" ry="1.6" fill="#dcdcdc" transform="rotate(33 74 108)"/><ellipse cx="60" cy="31" rx="2.8" ry="5.3" fill="#dcdcdc" transform="rotate(166 60 31)"/><ellipse cx="27" cy="101" rx="3.4" ry="3.4" fill="#bdbdbd" transform="rotate(62 27 101)"/><ellipse cx="146" cy="17" rx="3.1" ry="3.3" fill="#dcdcdc" transform="rotate(76 146 17)"/><ellipse cx="34" cy="34" rx="2.0" ry="3.8" fill="#b0b0b0" transform="rotate(48 34 34)"/><ellipse cx="40" cy="42" rx="1.7" ry="1.7" fill="#dcdcdc" transform="rotate(61 40 42)"/><ellipse cx="124" cy="71" rx="2.1" ry="2.9" fill="#dcdcdc" transform="rotate(41 124 71)"/><ellipse cx="29" cy="110" rx="3.4" ry="5.5" fill="#b0b0b0" transform="rotate(101 29 110)"/><ellipse cx="65" cy="92" rx="1.7" ry="3.5" fill="#bdbdbd" transform="rotate(174 65 92)"/><ellipse cx="15" cy="37" rx="1.9" ry="2.9" fill="#dcdcdc" transform="rotate(29 15 37)"/><ellipse cx="88" cy="33" rx="2.3" ry="4.2" fill="#b0b0b0" transform="rotate(129 88 33)"/><ellipse cx="156" cy="130" rx="2.4" ry="3.5" fill="#b0b0b0" transform="rotate(112 156 130)"/><ellipse cx="107" cy="121" rx="3.2" ry="4.0" fill="#dcdcdc" transform="rotate(62 107 121)"/><ellipse cx="193" cy="121" rx="3.0" ry="5.4" fill="#dcdcdc" transform="rotate(24 193 121)"/><ellipse cx="105" cy="132" rx="3.1" ry="5.1" fill="#b0b0b0" transform="rotate(43 105 132)"/><ellipse cx="181" cy="159" rx="2.7" ry="4.8" fill="#dcdcdc" transform="rotate(158 181 159)"/><ellipse cx="35" cy="16" rx="3.3" ry="5.9" fill="#b0b0b0" transform="rotate(151 35 16)"/><ellipse cx="26" cy="128" rx="1.6" ry="1.3" fill="#cacaca" transform="rotate(100 26 128)"/><ellipse cx="209" cy="122" rx="2.2" ry="2.7" fill="#dcdcdc" transform="rotate(29 209 122)"/><ellipse cx="32" cy="60" rx="1.5" ry="2.5" fill="#b0b0b0" transform="rotate(111 32 60)"/><ellipse cx="179" cy="141" rx="1.9" ry="3.7" fill="#cacaca" transform="rotate(105 179 141)"/><ellipse cx="93" cy="75" rx="3.1" ry="5.8" fill="#bdbdbd" transform="rotate(13 93 75)"/><ellipse cx="208" cy="29" rx="3.2" ry="4.1" fill="#b0b0b0" transform="rotate(61 208 29)"/><ellipse cx="167" cy="12" rx="3.3" ry="3.1" fill="#bdbdbd" transform="rotate(74 167 12)"/><ellipse cx="19" cy="100" rx="3.5" ry="6.7" fill="#b0b0b0" transform="rotate(118 19 100)"/><ellipse cx="54" cy="42" rx="3.0" ry="5.5" fill="#cacaca" transform="rotate(84 54 42)"/><ellipse cx="182" cy="78" rx="3.5" ry="5.8" fill="#cacaca" transform="rotate(152 182 78)"/><ellipse cx="125" cy="154" rx="1.6" ry="2.6" fill="#bdbdbd" transform="rotate(108 125 154)"/><ellipse cx="0" cy="145" rx="2.1" ry="2.3" fill="#bdbdbd" transform="rotate(159 0 145)"/><ellipse cx="179" cy="64" rx="2.1" ry="2.0" fill="#dcdcdc" transform="rotate(47 179 64)"/><ellipse cx="167" cy="39" rx="1.3" ry="1.6" fill="#dcdcdc" transform="rotate(146 167 39)"/><ellipse cx="75" cy="147" rx="3.2" ry="4.1" fill="#dcdcdc" transform="rotate(72 75 147)"/><ellipse cx="41" cy="28" rx="2.7" ry="3.7" fill="#b0b0b0" transform="rotate(86 41 28)"/><ellipse cx="211" cy="95" rx="2.4" ry="2.1" fill="#cacaca" transform="rotate(168 211 95)"/><ellipse cx="79" cy="43" rx="2.2" ry="4.2" fill="#bdbdbd" transform="rotate(106 79 43)"/><ellipse cx="192" cy="15" rx="1.2" ry="1.6" fill="#cacaca" transform="rotate(121 192 15)"/><ellipse cx="22" cy="4" rx="2.5" ry="4.4" fill="#bdbdbd" transform="rotate(113 22 4)"/><ellipse cx="154" cy="85" rx="1.2" ry="2.3" fill="#bdbdbd" transform="rotate(9 154 85)"/><ellipse cx="144" cy="24" rx="3.2" ry="2.6" fill="#cacaca" transform="rotate(86 144 24)"/><ellipse cx="141" cy="149" rx="2.1" ry="1.8" fill="#dcdcdc" transform="rotate(89 141 149)"/><ellipse cx="69" cy="46" rx="1.6" ry="1.5" fill="#cacaca" transform="rotate(81 69 46)"/><ellipse cx="54" cy="35" rx="2.8" ry="5.3" fill="#cacaca" transform="rotate(35 54 35)"/><ellipse cx="155" cy="141" rx="3.5" ry="2.8" fill="#dcdcdc" transform="rotate(163 155 141)"/><ellipse cx="201" cy="2" rx="3.0" ry="2.0" fill="#dcdcdc" transform="rotate(100 201 2)"/><ellipse cx="13" cy="151" rx="2.1" ry="1.4" fill="#b0b0b0" transform="rotate(93 13 151)"/><ellipse cx="207" cy="111" rx="2.7" ry="1.8" fill="#dcdcdc" transform="rotate(79 207 111)"/><ellipse cx="136" cy="72" rx="3.3" ry="3.8" fill="#dcdcdc" transform="rotate(0 136 72)"/><ellipse cx="33" cy="110" rx="3.4" ry="5.8" fill="#dcdcdc" transform="rotate(114 33 110)"/><ellipse cx="99" cy="144" rx="1.8" ry="3.2" fill="#dcdcdc" transform="rotate(147 99 144)"/><ellipse cx="100" cy="136" rx="1.7" ry="2.3" fill="#b0b0b0" transform="rotate(65 100 136)"/><ellipse cx="160" cy="52" rx="1.2" ry="1.4" fill="#cacaca" transform="rotate(69 160 52)"/><ellipse cx="143" cy="51" rx="3.4" ry="3.1" fill="#cacaca" transform="rotate(129 143 51)"/><ellipse cx="20" cy="23" rx="2.2" ry="3.6" fill="#dcdcdc" transform="rotate(141 20 23)"/><ellipse cx="90" cy="130" rx="2.4" ry="4.1" fill="#cacaca" transform="rotate(6 90 130)"/><ellipse cx="60" cy="150" rx="2.3" ry="2.8" fill="#bdbdbd" transform="rotate(73 60 150)"/><ellipse cx="120" cy="23" rx="2.1" ry="2.9" fill="#dcdcdc" transform="rotate(58 120 23)"/><ellipse cx="138" cy="145" rx="1.5" ry="1.7" fill="#bdbdbd" transform="rotate(162 138 145)"/><ellipse cx="99" cy="11" rx="1.1" ry="1.6" fill="#b0b0b0" transform="rotate(158 99 11)"/><ellipse cx="64" cy="44" rx="3.2" ry="2.1" fill="#dcdcdc" transform="rotate(80 64 44)"/><ellipse cx="104" cy="88" rx="2.0" ry="3.8" fill="#bdbdbd" transform="rotate(123 104 88)"/><ellipse cx="46" cy="136" rx="1.9" ry="1.5" fill="#bdbdbd" transform="rotate(153 46 136)"/><ellipse cx="4" cy="13" rx="1.7" ry="1.0" fill="#bdbdbd" transform="rotate(63 4 13)"/><ellipse cx="160" cy="145" rx="2.8" ry="3.3" fill="#cacaca" transform="rotate(49 160 145)"/><ellipse cx="103" cy="91" rx="3.1" ry="2.3" fill="#bdbdbd" transform="rotate(8 103 91)"/><ellipse cx="142" cy="38" rx="1.4" ry="1.6" fill="#dcdcdc" transform="rotate(57 142 38)"/><ellipse cx="168" cy="48" rx="3.3" ry="5.6" fill="#dcdcdc" transform="rotate(65 168 48)"/><ellipse cx="62" cy="30" rx="2.2" ry="2.2" fill="#bdbdbd" transform="rotate(166 62 30)"/><ellipse cx="77" cy="97" rx="1.3" ry="0.9" fill="#cacaca" transform="rotate(11 77 97)"/><ellipse cx="206" cy="3" rx="1.9" ry="3.1" fill="#b0b0b0" transform="rotate(3 206 3)"/><ellipse cx="90" cy="128" rx="2.0" ry="3.0" fill="#bdbdbd" transform="rotate(139 90 128)"/><ellipse cx="90" cy="81" rx="2.6" ry="4.7" fill="#b0b0b0" transform="rotate(54 90 81)"/><ellipse cx="51" cy="112" rx="1.5" ry="2.4" fill="#bdbdbd" transform="rotate(22 51 112)"/><ellipse cx="145" cy="130" rx="2.8" ry="3.5" fill="#b0b0b0" transform="rotate(107 145 130)"/><ellipse cx="203" cy="44" rx="3.2" ry="4.9" fill="#b0b0b0" transform="rotate(154 203 44)"/><ellipse cx="0" cy="150" rx="2.1" ry="3.9" fill="#dcdcdc" transform="rotate(88 0 150)"/><ellipse cx="140" cy="67" rx="2.7" ry="4.8" fill="#cacaca" transform="rotate(178 140 67)"/><ellipse cx="206" cy="140" rx="1.6" ry="2.1" fill="#b0b0b0" transform="rotate(96 206 140)"/><ellipse cx="31" cy="70" rx="2.1" ry="2.0" fill="#cacaca" transform="rotate(79 31 70)"/><ellipse cx="161" cy="31" rx="2.5" ry="2.5" fill="#bdbdbd" transform="rotate(95 161 31)"/><ellipse cx="105" cy="28" rx="2.4" ry="4.5" fill="#cacaca" transform="rotate(19 105 28)"/><ellipse cx="151" cy="111" rx="3.6" ry="4.1" fill="#bdbdbd" transform="rotate(32 151 111)"/><ellipse cx="127" cy="48" rx="3.6" ry="6.5" fill="#dcdcdc" transform="rotate(112 127 48)"/><ellipse cx="14" cy="120" rx="1.7" ry="3.0" fill="#dcdcdc" transform="rotate(107 14 120)"/><ellipse cx="150" cy="48" rx="2.9" ry="3.8" fill="#b0b0b0" transform="rotate(156 150 48)"/><ellipse cx="70" cy="156" rx="2.6" ry="4.2" fill="#bdbdbd" transform="rotate(77 70 156)"/><ellipse cx="132" cy="77" rx="1.9" ry="1.6" fill="#dcdcdc" transform="rotate(132 132 77)"/><ellipse cx="109" cy="14" rx="2.1" ry="4.1" fill="#bdbdbd" transform="rotate(7 109 14)"/><ellipse cx="64" cy="159" rx="2.4" ry="4.8" fill="#bdbdbd" transform="rotate(82 64 159)"/><ellipse cx="205" cy="88" rx="1.8" ry="2.8" fill="#bdbdbd" transform="rotate(87 205 88)"/><ellipse cx="45" cy="115" rx="1.6" ry="1.9" fill="#bdbdbd" transform="rotate(41 45 115)"/><ellipse cx="136" cy="81" rx="2.2" ry="4.0" fill="#cacaca" transform="rotate(20 136 81)"/><ellipse cx="69" cy="103" rx="2.8" ry="3.8" fill="#b0b0b0" transform="rotate(162 69 103)"/><ellipse cx="141" cy="10" rx="3.6" ry="3.0" fill="#dcdcdc" transform="rotate(1 141 10)"/><ellipse cx="1" cy="126" rx="2.1" ry="3.1" fill="#b0b0b0" transform="rotate(134 1 126)"/><ellipse cx="144" cy="53" rx="2.3" ry="4.3" fill="#cacaca" transform="rotate(142 144 53)"/><ellipse cx="208" cy="34" rx="3.3" ry="4.9" fill="#bdbdbd" transform="rotate(83 208 34)"/><ellipse cx="180" cy="99" rx="2.8" ry="4.6" fill="#bdbdbd" transform="rotate(133 180 99)"/><ellipse cx="104" cy="97" rx="2.7" ry="2.5" fill="#dcdcdc" transform="rotate(55 104 97)"/><ellipse cx="156" cy="29" rx="2.2" ry="3.7" fill="#cacaca" transform="rotate(131 156 29)"/><ellipse cx="51" cy="35" rx="3.1" ry="2.8" fill="#bdbdbd" transform="rotate(79 51 35)"/><ellipse cx="174" cy="81" rx="2.1" ry="3.0" fill="#dcdcdc" transform="rotate(97 174 81)"/><ellipse cx="205" cy="32" rx="2.3" ry="4.0" fill="#cacaca" transform="rotate(103 205 32)"/><ellipse cx="12" cy="94" rx="3.2" ry="5.3" fill="#b0b0b0" transform="rotate(16 12 94)"/><ellipse cx="168" cy="72" rx="2.6" ry="2.6" fill="#cacaca" transform="rotate(86 168 72)"/><ellipse cx="125" cy="20" rx="3.1" ry="2.6" fill="#bdbdbd" transform="rotate(110 125 20)"/><ellipse cx="113" cy="88" rx="2.2" ry="2.6" fill="#dcdcdc" transform="rotate(172 113 88)"/><ellipse cx="5" cy="141" rx="2.7" ry="4.6" fill="#cacaca" transform="rotate(74 5 141)"/><ellipse cx="11" cy="81" rx="3.5" ry="6.2" fill="#cacaca" transform="rotate(139 11 81)"/><ellipse cx="102" cy="56" rx="1.5" ry="2.2" fill="#dcdcdc" transform="rotate(63 102 56)"/><ellipse cx="176" cy="106" rx="3.0" ry="5.0" fill="#dcdcdc" transform="rotate(45 176 106)"/><ellipse cx="103" cy="40" rx="3.2" ry="5.4" fill="#bdbdbd" transform="rotate(177 103 40)"/><ellipse cx="163" cy="16" rx="1.1" ry="0.8" fill="#bdbdbd" transform="rotate(98 163 16)"/></g><g stroke="#484848" stroke-width="0.8"><ellipse cx="166" cy="102" rx="2.2" ry="2.2" fill="#626262" transform="rotate(121 166 102)"/><ellipse cx="93" cy="135" rx="1.4" ry="2.1" fill="#5a5a5a" transform="rotate(36 93 135)"/><ellipse cx="137" cy="120" rx="2.8" ry="2.7" fill="#5a5a5a" transform="rotate(72 137 120)"/><ellipse cx="28" cy="74" rx="2.9" ry="5.2" fill="#6a6a6a" transform="rotate(6 28 74)"/><ellipse cx="163" cy="71" rx="3.3" ry="4.8" fill="#6a6a6a" transform="rotate(174 163 71)"/><ellipse cx="8" cy="41" rx="1.7" ry="3.5" fill="#6a6a6a" transform="rotate(22 8 41)"/><ellipse cx="142" cy="69" rx="1.8" ry="3.8" fill="#747474" transform="rotate(63 142 69)"/><ellipse cx="216" cy="39" rx="2.1" ry="1.7" fill="#5a5a5a" transform="rotate(35 216 39)"/><ellipse cx="75" cy="65" rx="1.9" ry="3.7" fill="#626262" transform="rotate(159 75 65)"/><ellipse cx="211" cy="93" rx="1.3" ry="2.9" fill="#5a5a5a" transform="rotate(174 211 93)"/><ellipse cx="124" cy="51" rx="2.0" ry="3.5" fill="#5a5a5a" transform="rotate(45 124 51)"/><ellipse cx="142" cy="149" rx="1.6" ry="1.6" fill="#6a6a6a" transform="rotate(100 142 149)"/><ellipse cx="95" cy="139" rx="1.7" ry="3.0" fill="#6a6a6a" transform="rotate(79 95 139)"/><ellipse cx="6" cy="16" rx="2.6" ry="2.4" fill="#626262" transform="rotate(2 6 16)"/><ellipse cx="175" cy="137" rx="1.5" ry="1.9" fill="#626262" transform="rotate(66 175 137)"/><ellipse cx="45" cy="74" rx="1.4" ry="2.1" fill="#5a5a5a" transform="rotate(136 45 74)"/><ellipse cx="53" cy="103" rx="3.3" ry="7.0" fill="#6a6a6a" transform="rotate(169 53 103)"/><ellipse cx="16" cy="72" rx="2.7" ry="2.9" fill="#626262" transform="rotate(99 16 72)"/><ellipse cx="9" cy="154" rx="1.4" ry="1.7" fill="#5a5a5a" transform="rotate(112 9 154)"/><ellipse cx="195" cy="62" rx="3.3" ry="6.9" fill="#6a6a6a" transform="rotate(55 195 62)"/><ellipse cx="41" cy="96" rx="2.5" ry="4.7" fill="#5a5a5a" transform="rotate(80 41 96)"/><ellipse cx="117" cy="19" rx="3.2" ry="3.4" fill="#5a5a5a" transform="rotate(165 117 19)"/><ellipse cx="119" cy="19" rx="2.7" ry="5.9" fill="#6a6a6a" transform="rotate(50 119 19)"/><ellipse cx="80" cy="66" rx="2.4" ry="1.8" fill="#6a6a6a" transform="rotate(106 80 66)"/><ellipse cx="171" cy="54" rx="3.5" ry="6.4" fill="#6a6a6a" transform="rotate(104 171 54)"/><ellipse cx="18" cy="59" rx="1.9" ry="3.9" fill="#747474" transform="rotate(146 18 59)"/><ellipse cx="43" cy="146" rx="2.3" ry="4.1" fill="#747474" transform="rotate(124 43 146)"/><ellipse cx="73" cy="22" rx="3.4" ry="6.2" fill="#626262" transform="rotate(151 73 22)"/><ellipse cx="5" cy="48" rx="3.1" ry="4.0" fill="#626262" transform="rotate(25 5 48)"/><ellipse cx="84" cy="105" rx="2.3" ry="5.0" fill="#747474" transform="rotate(161 84 105)"/><ellipse cx="57" cy="68" rx="1.7" ry="1.7" fill="#6a6a6a" transform="rotate(144 57 68)"/><ellipse cx="90" cy="112" rx="2.1" ry="4.4" fill="#747474" transform="rotate(133 90 112)"/><ellipse cx="44" cy="3" rx="2.5" ry="3.4" fill="#6a6a6a" transform="rotate(38 44 3)"/><ellipse cx="118" cy="55" rx="3.0" ry="6.3" fill="#6a6a6a" transform="rotate(94 118 55)"/><ellipse cx="72" cy="32" rx="2.7" ry="2.6" fill="#5a5a5a" transform="rotate(80 72 32)"/><ellipse cx="83" cy="43" rx="2.5" ry="2.1" fill="#6a6a6a" transform="rotate(15 83 43)"/><ellipse cx="155" cy="152" rx="3.2" ry="3.3" fill="#6a6a6a" transform="rotate(167 155 152)"/><ellipse cx="152" cy="119" rx="2.3" ry="2.5" fill="#626262" transform="rotate(43 152 119)"/><ellipse cx="212" cy="15" rx="1.5" ry="1.1" fill="#747474" transform="rotate(135 212 15)"/><ellipse cx="82" cy="82" rx="1.8" ry="1.9" fill="#747474" transform="rotate(4 82 82)"/><ellipse cx="51" cy="32" rx="2.6" ry="4.9" fill="#747474" transform="rotate(35 51 32)"/><ellipse cx="182" cy="31" rx="2.8" ry="4.6" fill="#6a6a6a" transform="rotate(2 182 31)"/><ellipse cx="3" cy="23" rx="3.6" ry="3.8" fill="#5a5a5a" transform="rotate(78 3 23)"/><ellipse cx="119" cy="98" rx="2.8" ry="3.2" fill="#6a6a6a" transform="rotate(87 119 98)"/><ellipse cx="7" cy="151" rx="3.4" ry="5.2" fill="#626262" transform="rotate(63 7 151)"/><ellipse cx="96" cy="152" rx="3.6" ry="7.4" fill="#5a5a5a" transform="rotate(77 96 152)"/><ellipse cx="103" cy="99" rx="3.3" ry="3.0" fill="#6a6a6a" transform="rotate(138 103 99)"/><ellipse cx="114" cy="131" rx="3.2" ry="3.9" fill="#626262" transform="rotate(166 114 131)"/><ellipse cx="60" cy="106" rx="3.5" ry="4.3" fill="#626262" transform="rotate(29 60 106)"/><ellipse cx="14" cy="142" rx="3.3" ry="2.4" fill="#747474" transform="rotate(14 14 142)"/><ellipse cx="141" cy="151" rx="3.6" ry="7.3" fill="#626262" transform="rotate(92 141 151)"/><ellipse cx="91" cy="103" rx="1.3" ry="2.0" fill="#6a6a6a" transform="rotate(169 91 103)"/><ellipse cx="129" cy="1" rx="2.1" ry="3.9" fill="#5a5a5a" transform="rotate(9 129 1)"/><ellipse cx="173" cy="100" rx="1.9" ry="3.0" fill="#6a6a6a" transform="rotate(179 173 100)"/><ellipse cx="195" cy="88" rx="1.8" ry="2.2" fill="#5a5a5a" transform="rotate(176 195 88)"/><ellipse cx="41" cy="42" rx="1.6" ry="3.5" fill="#5a5a5a" transform="rotate(16 41 42)"/><ellipse cx="95" cy="6" rx="2.6" ry="2.9" fill="#626262" transform="rotate(44 95 6)"/><ellipse cx="7" cy="130" rx="2.7" ry="3.2" fill="#5a5a5a" transform="rotate(53 7 130)"/><ellipse cx="94" cy="87" rx="2.5" ry="1.9" fill="#6a6a6a" transform="rotate(21 94 87)"/><ellipse cx="79" cy="73" rx="2.0" ry="4.3" fill="#6a6a6a" transform="rotate(155 79 73)"/><ellipse cx="165" cy="116" rx="2.8" ry="5.1" fill="#747474" transform="rotate(165 165 116)"/><ellipse cx="151" cy="29" rx="3.0" ry="2.6" fill="#626262" transform="rotate(102 151 29)"/><ellipse cx="63" cy="77" rx="1.4" ry="2.6" fill="#6a6a6a" transform="rotate(170 63 77)"/><ellipse cx="76" cy="64" rx="2.6" ry="2.7" fill="#626262" transform="rotate(122 76 64)"/><ellipse cx="37" cy="90" rx="1.8" ry="3.8" fill="#5a5a5a" transform="rotate(30 37 90)"/><ellipse cx="93" cy="138" rx="2.5" ry="3.6" fill="#626262" transform="rotate(39 93 138)"/><ellipse cx="56" cy="75" rx="2.6" ry="3.6" fill="#5a5a5a" transform="rotate(3 56 75)"/><ellipse cx="84" cy="48" rx="3.4" ry="4.5" fill="#626262" transform="rotate(129 84 48)"/><ellipse cx="145" cy="95" rx="2.5" ry="4.1" fill="#6a6a6a" transform="rotate(78 145 95)"/><ellipse cx="5" cy="119" rx="3.0" ry="4.2" fill="#626262" transform="rotate(33 5 119)"/><ellipse cx="142" cy="16" rx="3.5" ry="4.7" fill="#5a5a5a" transform="rotate(172 142 16)"/><ellipse cx="65" cy="95" rx="2.8" ry="5.0" fill="#6a6a6a" transform="rotate(48 65 95)"/><ellipse cx="57" cy="33" rx="1.7" ry="2.3" fill="#626262" transform="rotate(32 57 33)"/><ellipse cx="216" cy="25" rx="2.2" ry="4.7" fill="#6a6a6a" transform="rotate(65 216 25)"/><ellipse cx="169" cy="156" rx="1.5" ry="1.9" fill="#747474" transform="rotate(157 169 156)"/><ellipse cx="67" cy="82" rx="3.1" ry="2.9" fill="#747474" transform="rotate(175 67 82)"/><ellipse cx="132" cy="36" rx="3.0" ry="6.1" fill="#626262" transform="rotate(157 132 36)"/><ellipse cx="201" cy="82" rx="2.9" ry="6.3" fill="#5a5a5a" transform="rotate(99 201 82)"/><ellipse cx="4" cy="65" rx="3.0" ry="5.4" fill="#5a5a5a" transform="rotate(76 4 65)"/><ellipse cx="173" cy="143" rx="1.4" ry="1.8" fill="#6a6a6a" transform="rotate(97 173 143)"/><ellipse cx="129" cy="43" rx="3.2" ry="5.3" fill="#747474" transform="rotate(54 129 43)"/><ellipse cx="144" cy="34" rx="2.0" ry="2.0" fill="#626262" transform="rotate(92 144 34)"/><ellipse cx="7" cy="12" rx="2.8" ry="4.6" fill="#747474" transform="rotate(106 7 12)"/><ellipse cx="173" cy="114" rx="1.9" ry="4.0" fill="#626262" transform="rotate(13 173 114)"/><ellipse cx="49" cy="115" rx="2.8" ry="2.9" fill="#6a6a6a" transform="rotate(79 49 115)"/><ellipse cx="200" cy="151" rx="3.2" ry="3.1" fill="#626262" transform="rotate(146 200 151)"/><ellipse cx="43" cy="138" rx="3.4" ry="5.4" fill="#747474" transform="rotate(41 43 138)"/><ellipse cx="26" cy="7" rx="3.3" ry="6.7" fill="#5a5a5a" transform="rotate(172 26 7)"/><ellipse cx="167" cy="61" rx="1.6" ry="1.8" fill="#747474" transform="rotate(99 167 61)"/><ellipse cx="13" cy="79" rx="2.1" ry="1.6" fill="#747474" transform="rotate(9 13 79)"/><ellipse cx="191" cy="67" rx="1.5" ry="3.2" fill="#5a5a5a" transform="rotate(8 191 67)"/><ellipse cx="85" cy="75" rx="3.0" ry="6.3" fill="#626262" transform="rotate(153 85 75)"/><ellipse cx="209" cy="123" rx="1.9" ry="1.4" fill="#5a5a5a" transform="rotate(42 209 123)"/><ellipse cx="56" cy="149" rx="2.4" ry="5.0" fill="#5a5a5a" transform="rotate(134 56 149)"/><ellipse cx="102" cy="16" rx="2.7" ry="5.6" fill="#747474" transform="rotate(145 102 16)"/><ellipse cx="90" cy="156" rx="2.2" ry="4.6" fill="#747474" transform="rotate(110 90 156)"/><ellipse cx="27" cy="136" rx="2.1" ry="2.0" fill="#747474" transform="rotate(131 27 136)"/><ellipse cx="25" cy="129" rx="3.2" ry="5.3" fill="#747474" transform="rotate(91 25 129)"/><ellipse cx="14" cy="44" rx="3.2" ry="7.1" fill="#747474" transform="rotate(115 14 44)"/><ellipse cx="118" cy="8" rx="2.9" ry="2.5" fill="#6a6a6a" transform="rotate(35 118 8)"/><ellipse cx="177" cy="46" rx="2.6" ry="3.5" fill="#626262" transform="rotate(84 177 46)"/><ellipse cx="121" cy="122" rx="1.9" ry="3.3" fill="#747474" transform="rotate(131 121 122)"/><ellipse cx="71" cy="88" rx="3.4" ry="2.6" fill="#6a6a6a" transform="rotate(57 71 88)"/><ellipse cx="29" cy="105" rx="2.8" ry="2.8" fill="#747474" transform="rotate(129 29 105)"/><ellipse cx="122" cy="72" rx="2.8" ry="3.6" fill="#747474" transform="rotate(129 122 72)"/><ellipse cx="132" cy="46" rx="2.1" ry="3.8" fill="#626262" transform="rotate(130 132 46)"/><ellipse cx="155" cy="48" rx="1.8" ry="1.6" fill="#626262" transform="rotate(54 155 48)"/><ellipse cx="52" cy="107" rx="2.6" ry="3.5" fill="#6a6a6a" transform="rotate(42 52 107)"/><ellipse cx="84" cy="25" rx="2.6" ry="5.2" fill="#747474" transform="rotate(92 84 25)"/><ellipse cx="107" cy="113" rx="1.6" ry="2.6" fill="#747474" transform="rotate(4 107 113)"/><ellipse cx="189" cy="57" rx="3.6" ry="5.6" fill="#5a5a5a" transform="rotate(105 189 57)"/><ellipse cx="150" cy="14" rx="3.2" ry="5.2" fill="#5a5a5a" transform="rotate(48 150 14)"/><ellipse cx="29" cy="45" rx="2.3" ry="2.0" fill="#747474" transform="rotate(58 29 45)"/><ellipse cx="204" cy="9" rx="2.1" ry="1.8" fill="#5a5a5a" transform="rotate(146 204 9)"/><ellipse cx="143" cy="88" rx="3.3" ry="6.2" fill="#6a6a6a" transform="rotate(99 143 88)"/><ellipse cx="167" cy="95" rx="1.9" ry="2.0" fill="#626262" transform="rotate(11 167 95)"/><ellipse cx="81" cy="52" rx="2.3" ry="1.9" fill="#6a6a6a" transform="rotate(156 81 52)"/><ellipse cx="178" cy="128" rx="3.6" ry="7.7" fill="#747474" transform="rotate(64 178 128)"/><ellipse cx="2" cy="32" rx="3.3" ry="3.3" fill="#626262" transform="rotate(66 2 32)"/><ellipse cx="129" cy="65" rx="3.4" ry="3.7" fill="#6a6a6a" transform="rotate(97 129 65)"/><ellipse cx="39" cy="58" rx="1.9" ry="2.4" fill="#5a5a5a" transform="rotate(36 39 58)"/><ellipse cx="123" cy="78" rx="1.4" ry="1.0" fill="#5a5a5a" transform="rotate(31 123 78)"/><ellipse cx="185" cy="67" rx="3.2" ry="6.1" fill="#6a6a6a" transform="rotate(174 185 67)"/><ellipse cx="189" cy="59" rx="1.5" ry="3.3" fill="#626262" transform="rotate(17 189 59)"/><ellipse cx="53" cy="15" rx="2.1" ry="2.0" fill="#747474" transform="rotate(59 53 15)"/><ellipse cx="46" cy="126" rx="2.3" ry="2.2" fill="#747474" transform="rotate(84 46 126)"/><ellipse cx="159" cy="158" rx="2.1" ry="2.0" fill="#5a5a5a" transform="rotate(159 159 158)"/><ellipse cx="66" cy="106" rx="1.9" ry="1.8" fill="#747474" transform="rotate(142 66 106)"/><ellipse cx="15" cy="156" rx="3.4" ry="2.4" fill="#626262" transform="rotate(142 15 156)"/><ellipse cx="51" cy="6" rx="2.2" ry="2.9" fill="#747474" transform="rotate(53 51 6)"/><ellipse cx="109" cy="22" rx="2.0" ry="4.0" fill="#6a6a6a" transform="rotate(28 109 22)"/><ellipse cx="58" cy="35" rx="2.5" ry="3.4" fill="#747474" transform="rotate(57 58 35)"/><ellipse cx="38" cy="102" rx="1.4" ry="1.5" fill="#5a5a5a" transform="rotate(65 38 102)"/><ellipse cx="121" cy="101" rx="1.3" ry="2.2" fill="#5a5a5a" transform="rotate(110 121 101)"/><ellipse cx="99" cy="13" rx="3.5" ry="5.9" fill="#626262" transform="rotate(73 99 13)"/><ellipse cx="129" cy="51" rx="2.5" ry="2.4" fill="#626262" transform="rotate(125 129 51)"/><ellipse cx="85" cy="93" rx="3.0" ry="2.9" fill="#626262" transform="rotate(22 85 93)"/><ellipse cx="87" cy="18" rx="1.9" ry="3.0" fill="#6a6a6a" transform="rotate(178 87 18)"/><ellipse cx="114" cy="94" rx="1.7" ry="2.0" fill="#5a5a5a" transform="rotate(29 114 94)"/><ellipse cx="89" cy="74" rx="2.9" ry="2.5" fill="#626262" transform="rotate(2 89 74)"/><ellipse cx="57" cy="69" rx="2.2" ry="3.8" fill="#747474" transform="rotate(28 57 69)"/><ellipse cx="67" cy="102" rx="1.8" ry="1.9" fill="#626262" transform="rotate(163 67 102)"/><ellipse cx="113" cy="9" rx="3.1" ry="5.2" fill="#626262" transform="rotate(18 113 9)"/><ellipse cx="34" cy="152" rx="2.5" ry="3.4" fill="#626262" transform="rotate(6 34 152)"/><ellipse cx="16" cy="146" rx="3.5" ry="4.8" fill="#6a6a6a" transform="rotate(109 16 146)"/><ellipse cx="73" cy="42" rx="1.3" ry="2.5" fill="#626262" transform="rotate(97 73 42)"/><ellipse cx="96" cy="82" rx="2.5" ry="5.1" fill="#6a6a6a" transform="rotate(155 96 82)"/><ellipse cx="123" cy="101" rx="1.3" ry="1.9" fill="#626262" transform="rotate(47 123 101)"/><ellipse cx="145" cy="146" rx="3.2" ry="3.5" fill="#6a6a6a" transform="rotate(93 145 146)"/><ellipse cx="79" cy="90" rx="2.3" ry="2.1" fill="#626262" transform="rotate(167 79 90)"/><ellipse cx="0" cy="138" rx="1.8" ry="1.8" fill="#626262" transform="rotate(70 0 138)"/><ellipse cx="105" cy="118" rx="2.9" ry="5.6" fill="#6a6a6a" transform="rotate(167 105 118)"/><ellipse cx="188" cy="70" rx="2.1" ry="3.9" fill="#6a6a6a" transform="rotate(115 188 70)"/><ellipse cx="105" cy="83" rx="2.7" ry="3.6" fill="#626262" transform="rotate(109 105 83)"/><ellipse cx="170" cy="5" rx="3.4" ry="2.4" fill="#6a6a6a" transform="rotate(40 170 5)"/><ellipse cx="207" cy="56" rx="3.1" ry="4.8" fill="#5a5a5a" transform="rotate(43 207 56)"/><ellipse cx="71" cy="60" rx="3.2" ry="4.0" fill="#626262" transform="rotate(119 71 60)"/><ellipse cx="28" cy="43" rx="2.3" ry="3.6" fill="#5a5a5a" transform="rotate(102 28 43)"/><ellipse cx="116" cy="87" rx="1.4" ry="3.0" fill="#747474" transform="rotate(170 116 87)"/><ellipse cx="49" cy="73" rx="2.9" ry="5.2" fill="#5a5a5a" transform="rotate(18 49 73)"/><ellipse cx="78" cy="30" rx="2.4" ry="3.8" fill="#5a5a5a" transform="rotate(86 78 30)"/><ellipse cx="142" cy="75" rx="3.0" ry="2.3" fill="#626262" transform="rotate(158 142 75)"/></g></g><g filter="url(#bl05)" stroke="#4a4a4a" stroke-width="0.8"><ellipse cx="78" cy="10" rx="7.5" ry="10" fill="#fff" stroke="#555" stroke-width="1"/><ellipse cx="133" cy="9" rx="9" ry="5" fill="#dcdcdc"/><path d="M41 33 L61 31 L59 47 L45 49 Z" fill="#3c3c3c"/><ellipse cx="50" cy="26" rx="7" ry="8" fill="#bdbdbd"/><path d="M124.5 58 C122 80 118 100 117.5 114" stroke="#3a3a3a" stroke-width="6.5" fill="none" stroke-linecap="round"/><path d="M124.5 58 C122 80 118 100 117.5 114" stroke="#606060" stroke-width="4" fill="none" stroke-linecap="round"/><path d="M131 56 C130 70 131 84 133 92" stroke="#3e3e3e" stroke-width="5" fill="none" stroke-linecap="round"/><path d="M131 56 C130 70 131 84 133 92" stroke="#666" stroke-width="2.8" fill="none" stroke-linecap="round"/><path d="M120 118 L122 160" stroke="#7a7a7a" stroke-width="5" fill="none"/><ellipse cx="100" cy="70" rx="8" ry="8" fill="#e0e0e0"/><ellipse cx="98" cy="72" rx="3.5" ry="3.5" fill="#666"/><ellipse cx="92" cy="58" rx="3.5" ry="9" fill="#5c5c5c" transform="rotate(40 92 58)"/><ellipse cx="104" cy="56" rx="5" ry="8" fill="#d0d0d0"/><ellipse cx="73.7" cy="131.7" rx="16" ry="23" fill="#bcbcbc" transform="rotate(-18 73.7 131.7)"/><ellipse cx="195" cy="120.7" rx="11" ry="18.5" fill="#fcfcfc" stroke="#555" stroke-width="1" transform="rotate(-24 195 120.7)"/><ellipse cx="202" cy="127.5" rx="3.2" ry="9" fill="#4a4a4a" transform="rotate(-12 202 127.5)"/><ellipse cx="207.3" cy="48" rx="7" ry="6.5" fill="#fff" stroke="#555" stroke-width="1"/><ellipse cx="207.3" cy="38.5" rx="4.5" ry="4.5" fill="#555"/><path d="M0 66 C8 80 14 92 16 106 L6 112 C4 96 0 88 -4 82 Z" fill="#5e5e5e"/><path d="M2 50 C8 46 14 46 18 50 L12 58 L0 60 Z" fill="#626262"/><ellipse cx="153" cy="56" rx="8" ry="15" fill="#aeaeae"/><ellipse cx="53.8" cy="89.8" rx="7" ry="5.5" fill="#dcdcdc"/><ellipse cx="21.8" cy="138.4" rx="4" ry="5" fill="#ececec"/><ellipse cx="12" cy="131.7" rx="5" ry="5" fill="#5a5a5a"/><ellipse cx="25" cy="146" rx="5" ry="5" fill="#5a5a5a"/><ellipse cx="140" cy="111" rx="6" ry="5" fill="#dadada"/><ellipse cx="140" cy="111" rx="3" ry="2.5" fill="#7a7a7a"/><ellipse cx="163" cy="107" rx="4.5" ry="5" fill="#e0e0e0"/><ellipse cx="163" cy="107" rx="2" ry="2" fill="#666"/><ellipse cx="152" cy="86" rx="9" ry="2.5" fill="#cfcfcf" transform="rotate(-30 152 86)"/><ellipse cx="84" cy="34" rx="4" ry="7" fill="#d6d6d6"/><ellipse cx="66" cy="26" rx="5" ry="6" fill="#cdcdcd"/><ellipse cx="32" cy="76" rx="6" ry="10" fill="#c4c4c4" transform="rotate(30 32 76)"/><ellipse cx="178" cy="20" rx="5" ry="8" fill="#c8c8c8" transform="rotate(30 178 20)"/><circle cx="41.7" cy="79.8" r="1.6" fill="#111"/><circle cx="178.6" cy="138.4" r="2.2" fill="#111"/></g></g><rect x="199.6" y="152.6" width="14.6" height="1.6" fill="#fff"/></g></g>
<g id="img_b3" transform="translate(58.0 605.8)"><g clip-path="url(#cp_b3)"><g filter="url(#gr_b3)"><rect x="-5" y="-5" width="227.0" height="168.8" fill="#bdbdbd"/><g filter="url(#bl3)"><ellipse cx="20.7" cy="140" rx="25" ry="18" fill="#e6e6e6"/><ellipse cx="186" cy="109" rx="20" ry="22" fill="#e2e2e2"/><ellipse cx="166.5" cy="45" rx="16" ry="16" fill="#e0e0e0"/><ellipse cx="204" cy="142" rx="13" ry="12" fill="#ececec"/><ellipse cx="115.7" cy="5" rx="13" ry="6" fill="#e2e2e2"/><ellipse cx="106.8" cy="49" rx="10" ry="9" fill="#dedede"/><ellipse cx="190.8" cy="22" rx="26" ry="17" fill="#8e8e8e"/><ellipse cx="9.7" cy="67" rx="10" ry="13" fill="#6e6e6e"/><ellipse cx="60" cy="20" rx="14" ry="10" fill="#d0d0d0"/><ellipse cx="70" cy="95" rx="14" ry="8" fill="#dcdcdc"/><ellipse cx="140" cy="20" rx="10" ry="12" fill="#d8d8d8"/><ellipse cx="120" cy="105" rx="30" ry="16" fill="#a6a6a6"/><ellipse cx="50" cy="60" rx="16" ry="18" fill="#9a9a9a"/></g><g filter="url(#bl05)"><g stroke="#6a6a6a" stroke-width="0.7"><ellipse cx="83" cy="121" rx="3.6" ry="6.0" fill="#e8e8e8" transform="rotate(159 83 121)"/><ellipse cx="145" cy="51" rx="2.5" ry="5.0" fill="#f0f0f0" transform="rotate(73 145 51)"/><ellipse cx="63" cy="12" rx="2.1" ry="2.5" fill="#d4d4d4" transform="rotate(105 63 12)"/><ellipse cx="40" cy="9" rx="2.5" ry="3.2" fill="#f0f0f0" transform="rotate(47 40 9)"/><ellipse cx="151" cy="151" rx="1.6" ry="2.9" fill="#f0f0f0" transform="rotate(109 151 151)"/><ellipse cx="121" cy="156" rx="3.2" ry="6.3" fill="#dedede" transform="rotate(38 121 156)"/><ellipse cx="44" cy="105" rx="3.6" ry="3.8" fill="#d4d4d4" transform="rotate(145 44 105)"/><ellipse cx="73" cy="111" rx="2.1" ry="1.8" fill="#f0f0f0" transform="rotate(176 73 111)"/><ellipse cx="27" cy="126" rx="2.1" ry="2.8" fill="#e8e8e8" transform="rotate(143 27 126)"/><ellipse cx="98" cy="20" rx="1.7" ry="1.7" fill="#dedede" transform="rotate(160 98 20)"/><ellipse cx="68" cy="137" rx="3.5" ry="3.2" fill="#dedede" transform="rotate(7 68 137)"/><ellipse cx="70" cy="55" rx="3.5" ry="2.3" fill="#e8e8e8" transform="rotate(100 70 55)"/><ellipse cx="199" cy="134" rx="3.2" ry="4.6" fill="#dedede" transform="rotate(156 199 134)"/><ellipse cx="204" cy="31" rx="1.1" ry="0.7" fill="#e8e8e8" transform="rotate(158 204 31)"/><ellipse cx="115" cy="110" rx="3.5" ry="6.6" fill="#dedede" transform="rotate(177 115 110)"/><ellipse cx="138" cy="149" rx="1.4" ry="1.1" fill="#f0f0f0" transform="rotate(46 138 149)"/><ellipse cx="26" cy="67" rx="1.6" ry="2.0" fill="#d4d4d4" transform="rotate(41 26 67)"/><ellipse cx="176" cy="107" rx="2.3" ry="3.9" fill="#dedede" transform="rotate(45 176 107)"/><ellipse cx="112" cy="36" rx="2.1" ry="3.8" fill="#e8e8e8" transform="rotate(126 112 36)"/><ellipse cx="115" cy="7" rx="3.6" ry="5.6" fill="#dedede" transform="rotate(26 115 7)"/><ellipse cx="90" cy="56" rx="3.1" ry="2.5" fill="#d4d4d4" transform="rotate(53 90 56)"/><ellipse cx="151" cy="111" rx="1.5" ry="2.3" fill="#e8e8e8" transform="rotate(115 151 111)"/><ellipse cx="137" cy="69" rx="1.2" ry="1.6" fill="#e8e8e8" transform="rotate(50 137 69)"/><ellipse cx="185" cy="61" rx="3.9" ry="6.2" fill="#d4d4d4" transform="rotate(124 185 61)"/><ellipse cx="200" cy="15" rx="3.6" ry="6.9" fill="#d4d4d4" transform="rotate(71 200 15)"/><ellipse cx="186" cy="75" rx="1.5" ry="1.8" fill="#d4d4d4" transform="rotate(154 186 75)"/><ellipse cx="91" cy="46" rx="3.9" ry="5.5" fill="#d4d4d4" transform="rotate(8 91 46)"/><ellipse cx="29" cy="127" rx="3.2" ry="5.9" fill="#dedede" transform="rotate(95 29 127)"/><ellipse cx="151" cy="67" rx="3.2" ry="2.4" fill="#e8e8e8" transform="rotate(33 151 67)"/><ellipse cx="78" cy="14" rx="3.1" ry="4.4" fill="#d4d4d4" transform="rotate(159 78 14)"/><ellipse cx="189" cy="92" rx="2.6" ry="4.5" fill="#dedede" transform="rotate(112 189 92)"/><ellipse cx="122" cy="100" rx="3.3" ry="3.0" fill="#d4d4d4" transform="rotate(97 122 100)"/><ellipse cx="95" cy="155" rx="2.5" ry="1.9" fill="#e8e8e8" transform="rotate(16 95 155)"/><ellipse cx="131" cy="77" rx="2.4" ry="3.7" fill="#e8e8e8" transform="rotate(54 131 77)"/><ellipse cx="106" cy="120" rx="3.0" ry="4.3" fill="#f0f0f0" transform="rotate(30 106 120)"/><ellipse cx="38" cy="93" rx="2.7" ry="4.9" fill="#dedede" transform="rotate(110 38 93)"/><ellipse cx="115" cy="148" rx="1.6" ry="1.1" fill="#d4d4d4" transform="rotate(122 115 148)"/><ellipse cx="32" cy="100" rx="1.3" ry="1.1" fill="#f0f0f0" transform="rotate(110 32 100)"/><ellipse cx="15" cy="139" rx="1.3" ry="1.1" fill="#dedede" transform="rotate(125 15 139)"/><ellipse cx="104" cy="6" rx="3.7" ry="5.5" fill="#dedede" transform="rotate(109 104 6)"/><ellipse cx="87" cy="46" rx="2.5" ry="1.7" fill="#d4d4d4" transform="rotate(173 87 46)"/><ellipse cx="89" cy="147" rx="3.6" ry="2.6" fill="#f0f0f0" transform="rotate(147 89 147)"/><ellipse cx="6" cy="29" rx="3.5" ry="3.4" fill="#dedede" transform="rotate(146 6 29)"/><ellipse cx="90" cy="116" rx="2.4" ry="4.5" fill="#d4d4d4" transform="rotate(137 90 116)"/><ellipse cx="80" cy="155" rx="2.3" ry="4.4" fill="#d4d4d4" transform="rotate(161 80 155)"/><ellipse cx="213" cy="144" rx="1.8" ry="3.3" fill="#d4d4d4" transform="rotate(96 213 144)"/><ellipse cx="41" cy="61" rx="1.2" ry="0.8" fill="#e8e8e8" transform="rotate(158 41 61)"/><ellipse cx="19" cy="51" rx="1.3" ry="1.7" fill="#d4d4d4" transform="rotate(40 19 51)"/><ellipse cx="204" cy="92" rx="2.6" ry="3.5" fill="#d4d4d4" transform="rotate(160 204 92)"/><ellipse cx="43" cy="93" rx="3.7" ry="3.4" fill="#f0f0f0" transform="rotate(157 43 93)"/><ellipse cx="38" cy="115" rx="2.8" ry="1.9" fill="#e8e8e8" transform="rotate(11 38 115)"/><ellipse cx="194" cy="113" rx="2.2" ry="2.9" fill="#dedede" transform="rotate(107 194 113)"/><ellipse cx="141" cy="134" rx="3.0" ry="5.4" fill="#d4d4d4" transform="rotate(146 141 134)"/><ellipse cx="33" cy="145" rx="3.0" ry="3.9" fill="#e8e8e8" transform="rotate(142 33 145)"/><ellipse cx="181" cy="105" rx="2.2" ry="2.9" fill="#dedede" transform="rotate(27 181 105)"/><ellipse cx="159" cy="82" rx="1.3" ry="1.7" fill="#e8e8e8" transform="rotate(109 159 82)"/><ellipse cx="114" cy="73" rx="2.3" ry="1.9" fill="#dedede" transform="rotate(27 114 73)"/><ellipse cx="109" cy="24" rx="3.1" ry="5.3" fill="#f0f0f0" transform="rotate(140 109 24)"/><ellipse cx="198" cy="110" rx="2.2" ry="3.5" fill="#d4d4d4" transform="rotate(23 198 110)"/><ellipse cx="168" cy="100" rx="1.5" ry="2.2" fill="#dedede" transform="rotate(12 168 100)"/><ellipse cx="121" cy="66" rx="2.1" ry="1.3" fill="#e8e8e8" transform="rotate(56 121 66)"/><ellipse cx="125" cy="70" rx="3.3" ry="6.5" fill="#e8e8e8" transform="rotate(29 125 70)"/><ellipse cx="213" cy="7" rx="1.6" ry="2.2" fill="#dedede" transform="rotate(22 213 7)"/><ellipse cx="131" cy="118" rx="3.2" ry="3.2" fill="#e8e8e8" transform="rotate(150 131 118)"/><ellipse cx="161" cy="103" rx="2.4" ry="1.9" fill="#dedede" transform="rotate(13 161 103)"/><ellipse cx="84" cy="37" rx="2.6" ry="1.7" fill="#f0f0f0" transform="rotate(20 84 37)"/><ellipse cx="177" cy="124" rx="1.3" ry="0.9" fill="#f0f0f0" transform="rotate(7 177 124)"/><ellipse cx="11" cy="81" rx="2.7" ry="3.3" fill="#f0f0f0" transform="rotate(35 11 81)"/><ellipse cx="24" cy="129" rx="3.0" ry="3.8" fill="#f0f0f0" transform="rotate(19 24 129)"/><ellipse cx="115" cy="145" rx="2.6" ry="3.8" fill="#e8e8e8" transform="rotate(117 115 145)"/><ellipse cx="116" cy="54" rx="1.5" ry="1.6" fill="#e8e8e8" transform="rotate(65 116 54)"/><ellipse cx="45" cy="123" rx="3.2" ry="5.3" fill="#dedede" transform="rotate(37 45 123)"/><ellipse cx="37" cy="40" rx="2.5" ry="2.7" fill="#dedede" transform="rotate(116 37 40)"/><ellipse cx="209" cy="138" rx="1.5" ry="1.0" fill="#dedede" transform="rotate(14 209 138)"/><ellipse cx="86" cy="58" rx="3.7" ry="4.4" fill="#f0f0f0" transform="rotate(10 86 58)"/><ellipse cx="6" cy="77" rx="1.2" ry="1.0" fill="#e8e8e8" transform="rotate(41 6 77)"/><ellipse cx="160" cy="49" rx="3.9" ry="4.5" fill="#f0f0f0" transform="rotate(63 160 49)"/><ellipse cx="136" cy="136" rx="3.5" ry="3.4" fill="#d4d4d4" transform="rotate(54 136 136)"/><ellipse cx="187" cy="33" rx="2.8" ry="5.0" fill="#f0f0f0" transform="rotate(164 187 33)"/><ellipse cx="17" cy="16" rx="2.5" ry="1.6" fill="#dedede" transform="rotate(14 17 16)"/><ellipse cx="87" cy="101" rx="1.8" ry="2.7" fill="#d4d4d4" transform="rotate(41 87 101)"/><ellipse cx="12" cy="72" rx="1.1" ry="1.6" fill="#f0f0f0" transform="rotate(24 12 72)"/><ellipse cx="203" cy="139" rx="2.5" ry="3.0" fill="#d4d4d4" transform="rotate(173 203 139)"/><ellipse cx="63" cy="75" rx="3.2" ry="3.4" fill="#d4d4d4" transform="rotate(105 63 75)"/><ellipse cx="51" cy="74" rx="1.5" ry="2.7" fill="#e8e8e8" transform="rotate(126 51 74)"/><ellipse cx="184" cy="32" rx="1.8" ry="2.3" fill="#dedede" transform="rotate(25 184 32)"/><ellipse cx="150" cy="11" rx="1.2" ry="0.8" fill="#f0f0f0" transform="rotate(106 150 11)"/><ellipse cx="158" cy="63" rx="2.2" ry="1.6" fill="#dedede" transform="rotate(95 158 63)"/><ellipse cx="162" cy="139" rx="1.6" ry="2.2" fill="#f0f0f0" transform="rotate(21 162 139)"/><ellipse cx="143" cy="115" rx="1.8" ry="3.0" fill="#f0f0f0" transform="rotate(0 143 115)"/><ellipse cx="13" cy="2" rx="2.8" ry="2.3" fill="#d4d4d4" transform="rotate(93 13 2)"/><ellipse cx="5" cy="51" rx="1.4" ry="1.9" fill="#e8e8e8" transform="rotate(17 5 51)"/><ellipse cx="200" cy="32" rx="3.9" ry="2.9" fill="#f0f0f0" transform="rotate(83 200 32)"/><ellipse cx="27" cy="30" rx="1.8" ry="3.2" fill="#f0f0f0" transform="rotate(24 27 30)"/><ellipse cx="115" cy="21" rx="2.2" ry="4.0" fill="#dedede" transform="rotate(106 115 21)"/><ellipse cx="77" cy="131" rx="3.6" ry="6.7" fill="#e8e8e8" transform="rotate(80 77 131)"/><ellipse cx="27" cy="47" rx="1.7" ry="1.1" fill="#f0f0f0" transform="rotate(78 27 47)"/><ellipse cx="162" cy="79" rx="2.2" ry="4.2" fill="#f0f0f0" transform="rotate(176 162 79)"/><ellipse cx="135" cy="42" rx="1.1" ry="1.8" fill="#f0f0f0" transform="rotate(131 135 42)"/><ellipse cx="157" cy="133" rx="4.0" ry="2.9" fill="#dedede" transform="rotate(34 157 133)"/><ellipse cx="1" cy="127" rx="3.3" ry="3.6" fill="#e8e8e8" transform="rotate(22 1 127)"/><ellipse cx="127" cy="1" rx="2.9" ry="4.2" fill="#dedede" transform="rotate(101 127 1)"/><ellipse cx="206" cy="58" rx="2.8" ry="2.3" fill="#dedede" transform="rotate(89 206 58)"/><ellipse cx="2" cy="30" rx="4.0" ry="6.6" fill="#e8e8e8" transform="rotate(32 2 30)"/><ellipse cx="207" cy="88" rx="1.5" ry="2.7" fill="#dedede" transform="rotate(39 207 88)"/><ellipse cx="156" cy="33" rx="1.1" ry="1.4" fill="#f0f0f0" transform="rotate(86 156 33)"/><ellipse cx="48" cy="158" rx="1.4" ry="1.4" fill="#d4d4d4" transform="rotate(99 48 158)"/><ellipse cx="156" cy="9" rx="2.2" ry="3.0" fill="#f0f0f0" transform="rotate(2 156 9)"/><ellipse cx="209" cy="52" rx="1.9" ry="1.9" fill="#dedede" transform="rotate(4 209 52)"/><ellipse cx="78" cy="36" rx="2.8" ry="2.3" fill="#d4d4d4" transform="rotate(45 78 36)"/><ellipse cx="54" cy="91" rx="1.4" ry="1.5" fill="#e8e8e8" transform="rotate(26 54 91)"/><ellipse cx="137" cy="24" rx="1.4" ry="2.1" fill="#d4d4d4" transform="rotate(115 137 24)"/><ellipse cx="44" cy="75" rx="2.0" ry="2.4" fill="#f0f0f0" transform="rotate(55 44 75)"/><ellipse cx="98" cy="20" rx="3.5" ry="4.3" fill="#f0f0f0" transform="rotate(112 98 20)"/><ellipse cx="76" cy="53" rx="1.2" ry="2.2" fill="#d4d4d4" transform="rotate(71 76 53)"/><ellipse cx="202" cy="123" rx="2.9" ry="5.2" fill="#f0f0f0" transform="rotate(88 202 123)"/><ellipse cx="29" cy="98" rx="1.9" ry="3.2" fill="#dedede" transform="rotate(134 29 98)"/><ellipse cx="86" cy="67" rx="2.1" ry="2.6" fill="#d4d4d4" transform="rotate(91 86 67)"/><ellipse cx="9" cy="136" rx="3.2" ry="4.3" fill="#dedede" transform="rotate(67 9 136)"/><ellipse cx="31" cy="67" rx="3.3" ry="4.5" fill="#d4d4d4" transform="rotate(125 31 67)"/><ellipse cx="26" cy="156" rx="2.4" ry="1.5" fill="#e8e8e8" transform="rotate(119 26 156)"/><ellipse cx="97" cy="35" rx="1.4" ry="0.9" fill="#d4d4d4" transform="rotate(135 97 35)"/><ellipse cx="178" cy="47" rx="4.0" ry="5.3" fill="#d4d4d4" transform="rotate(114 178 47)"/><ellipse cx="39" cy="126" rx="1.8" ry="2.5" fill="#f0f0f0" transform="rotate(173 39 126)"/><ellipse cx="101" cy="140" rx="2.0" ry="3.8" fill="#dedede" transform="rotate(93 101 140)"/><ellipse cx="114" cy="55" rx="1.3" ry="1.0" fill="#d4d4d4" transform="rotate(59 114 55)"/><ellipse cx="212" cy="30" rx="2.0" ry="1.4" fill="#dedede" transform="rotate(152 212 30)"/><ellipse cx="66" cy="46" rx="2.1" ry="3.5" fill="#f0f0f0" transform="rotate(118 66 46)"/><ellipse cx="174" cy="99" rx="3.9" ry="3.7" fill="#f0f0f0" transform="rotate(119 174 99)"/><ellipse cx="142" cy="34" rx="1.4" ry="1.5" fill="#dedede" transform="rotate(163 142 34)"/><ellipse cx="138" cy="76" rx="1.3" ry="1.6" fill="#dedede" transform="rotate(141 138 76)"/><ellipse cx="37" cy="83" rx="2.6" ry="4.6" fill="#f0f0f0" transform="rotate(47 37 83)"/><ellipse cx="105" cy="62" rx="1.6" ry="2.3" fill="#e8e8e8" transform="rotate(43 105 62)"/><ellipse cx="68" cy="157" rx="3.1" ry="2.6" fill="#d4d4d4" transform="rotate(156 68 157)"/><ellipse cx="97" cy="154" rx="1.9" ry="2.4" fill="#d4d4d4" transform="rotate(78 97 154)"/><ellipse cx="105" cy="12" rx="3.5" ry="4.7" fill="#f0f0f0" transform="rotate(131 105 12)"/><ellipse cx="34" cy="103" rx="1.1" ry="1.3" fill="#d4d4d4" transform="rotate(64 34 103)"/><ellipse cx="27" cy="59" rx="2.8" ry="3.2" fill="#f0f0f0" transform="rotate(58 27 59)"/><ellipse cx="117" cy="137" rx="3.9" ry="2.8" fill="#d4d4d4" transform="rotate(16 117 137)"/><ellipse cx="135" cy="103" rx="1.5" ry="1.0" fill="#d4d4d4" transform="rotate(115 135 103)"/></g><g stroke="#333" stroke-width="0.8"><ellipse cx="42" cy="158" rx="3.9" ry="4.2" fill="#4e4e4e" transform="rotate(92 42 158)"/><ellipse cx="34" cy="75" rx="2.9" ry="2.4" fill="#5a5a5a" transform="rotate(95 34 75)"/><ellipse cx="129" cy="19" rx="2.4" ry="3.5" fill="#4e4e4e" transform="rotate(166 129 19)"/><ellipse cx="61" cy="149" rx="2.0" ry="2.4" fill="#767676" transform="rotate(28 61 149)"/><ellipse cx="142" cy="40" rx="3.9" ry="8.5" fill="#5a5a5a" transform="rotate(131 142 40)"/><ellipse cx="164" cy="129" rx="3.2" ry="2.8" fill="#767676" transform="rotate(150 164 129)"/><ellipse cx="191" cy="27" rx="3.9" ry="3.6" fill="#686868" transform="rotate(22 191 27)"/><ellipse cx="105" cy="29" rx="3.8" ry="2.9" fill="#686868" transform="rotate(170 105 29)"/><ellipse cx="136" cy="112" rx="1.4" ry="1.7" fill="#686868" transform="rotate(30 136 112)"/><ellipse cx="142" cy="4" rx="3.6" ry="6.0" fill="#5a5a5a" transform="rotate(46 142 4)"/><ellipse cx="14" cy="40" rx="2.7" ry="5.4" fill="#5a5a5a" transform="rotate(121 14 40)"/><ellipse cx="107" cy="79" rx="2.9" ry="4.9" fill="#4e4e4e" transform="rotate(11 107 79)"/><ellipse cx="89" cy="34" rx="2.6" ry="3.1" fill="#767676" transform="rotate(75 89 34)"/><ellipse cx="101" cy="4" rx="3.5" ry="7.0" fill="#686868" transform="rotate(77 101 4)"/><ellipse cx="99" cy="80" rx="1.8" ry="2.1" fill="#4e4e4e" transform="rotate(100 99 80)"/><ellipse cx="117" cy="14" rx="3.2" ry="3.0" fill="#767676" transform="rotate(142 117 14)"/><ellipse cx="141" cy="140" rx="3.7" ry="3.9" fill="#767676" transform="rotate(64 141 140)"/><ellipse cx="56" cy="53" rx="3.1" ry="4.6" fill="#767676" transform="rotate(99 56 53)"/><ellipse cx="56" cy="85" rx="3.5" ry="3.3" fill="#5a5a5a" transform="rotate(116 56 85)"/><ellipse cx="130" cy="67" rx="3.5" ry="3.4" fill="#767676" transform="rotate(153 130 67)"/><ellipse cx="186" cy="28" rx="2.2" ry="2.1" fill="#767676" transform="rotate(132 186 28)"/><ellipse cx="38" cy="158" rx="3.6" ry="4.3" fill="#4e4e4e" transform="rotate(33 38 158)"/><ellipse cx="15" cy="8" rx="2.0" ry="4.2" fill="#4e4e4e" transform="rotate(59 15 8)"/><ellipse cx="48" cy="123" rx="1.6" ry="1.9" fill="#4e4e4e" transform="rotate(54 48 123)"/><ellipse cx="163" cy="74" rx="2.7" ry="2.5" fill="#686868" transform="rotate(156 163 74)"/><ellipse cx="149" cy="125" rx="2.0" ry="3.5" fill="#5a5a5a" transform="rotate(157 149 125)"/><ellipse cx="107" cy="18" rx="1.7" ry="2.1" fill="#767676" transform="rotate(120 107 18)"/><ellipse cx="1" cy="12" rx="2.1" ry="1.9" fill="#4e4e4e" transform="rotate(72 1 12)"/><ellipse cx="136" cy="50" rx="2.7" ry="3.0" fill="#4e4e4e" transform="rotate(81 136 50)"/><ellipse cx="74" cy="12" rx="3.3" ry="2.6" fill="#767676" transform="rotate(146 74 12)"/><ellipse cx="32" cy="99" rx="3.0" ry="3.1" fill="#767676" transform="rotate(14 32 99)"/><ellipse cx="123" cy="156" rx="2.9" ry="5.6" fill="#767676" transform="rotate(33 123 156)"/><ellipse cx="105" cy="121" rx="3.1" ry="2.8" fill="#767676" transform="rotate(72 105 121)"/><ellipse cx="41" cy="51" rx="2.2" ry="3.0" fill="#767676" transform="rotate(158 41 51)"/><ellipse cx="146" cy="149" rx="3.6" ry="5.7" fill="#767676" transform="rotate(6 146 149)"/><ellipse cx="116" cy="100" rx="2.9" ry="6.4" fill="#686868" transform="rotate(4 116 100)"/><ellipse cx="142" cy="6" rx="2.6" ry="2.3" fill="#4e4e4e" transform="rotate(137 142 6)"/><ellipse cx="30" cy="49" rx="3.8" ry="6.9" fill="#5a5a5a" transform="rotate(32 30 49)"/><ellipse cx="49" cy="56" rx="3.4" ry="4.4" fill="#4e4e4e" transform="rotate(30 49 56)"/><ellipse cx="111" cy="12" rx="3.7" ry="3.6" fill="#767676" transform="rotate(168 111 12)"/><ellipse cx="143" cy="35" rx="4.0" ry="7.9" fill="#767676" transform="rotate(9 143 35)"/><ellipse cx="39" cy="8" rx="3.5" ry="2.5" fill="#5a5a5a" transform="rotate(91 39 8)"/><ellipse cx="71" cy="70" rx="3.6" ry="5.6" fill="#5a5a5a" transform="rotate(149 71 70)"/><ellipse cx="7" cy="68" rx="2.6" ry="5.3" fill="#686868" transform="rotate(69 7 68)"/><ellipse cx="54" cy="53" rx="3.6" ry="6.5" fill="#686868" transform="rotate(112 54 53)"/><ellipse cx="143" cy="122" rx="1.5" ry="1.9" fill="#767676" transform="rotate(95 143 122)"/><ellipse cx="152" cy="1" rx="2.6" ry="2.2" fill="#5a5a5a" transform="rotate(126 152 1)"/><ellipse cx="120" cy="110" rx="1.8" ry="3.7" fill="#767676" transform="rotate(157 120 110)"/><ellipse cx="89" cy="108" rx="3.1" ry="6.4" fill="#686868" transform="rotate(92 89 108)"/><ellipse cx="41" cy="47" rx="2.7" ry="1.9" fill="#767676" transform="rotate(63 41 47)"/><ellipse cx="179" cy="26" rx="3.0" ry="5.6" fill="#5a5a5a" transform="rotate(59 179 26)"/><ellipse cx="122" cy="18" rx="3.9" ry="7.6" fill="#686868" transform="rotate(144 122 18)"/><ellipse cx="71" cy="155" rx="1.4" ry="1.0" fill="#4e4e4e" transform="rotate(126 71 155)"/><ellipse cx="127" cy="45" rx="3.8" ry="7.9" fill="#4e4e4e" transform="rotate(53 127 45)"/><ellipse cx="34" cy="72" rx="3.3" ry="2.9" fill="#767676" transform="rotate(161 34 72)"/><ellipse cx="81" cy="27" rx="2.8" ry="4.9" fill="#686868" transform="rotate(16 81 27)"/><ellipse cx="102" cy="10" rx="1.4" ry="2.5" fill="#4e4e4e" transform="rotate(58 102 10)"/><ellipse cx="66" cy="56" rx="3.2" ry="5.3" fill="#767676" transform="rotate(24 66 56)"/><ellipse cx="18" cy="48" rx="2.6" ry="5.6" fill="#5a5a5a" transform="rotate(130 18 48)"/><ellipse cx="2" cy="38" rx="2.1" ry="4.1" fill="#767676" transform="rotate(169 2 38)"/><ellipse cx="101" cy="133" rx="3.0" ry="6.3" fill="#686868" transform="rotate(44 101 133)"/><ellipse cx="96" cy="86" rx="3.8" ry="8.1" fill="#686868" transform="rotate(111 96 86)"/><ellipse cx="149" cy="6" rx="3.5" ry="4.3" fill="#767676" transform="rotate(47 149 6)"/><ellipse cx="89" cy="116" rx="3.2" ry="5.7" fill="#767676" transform="rotate(4 89 116)"/><ellipse cx="158" cy="138" rx="1.8" ry="3.4" fill="#5a5a5a" transform="rotate(63 158 138)"/><ellipse cx="122" cy="158" rx="2.0" ry="2.8" fill="#686868" transform="rotate(41 122 158)"/><ellipse cx="53" cy="137" rx="3.4" ry="5.0" fill="#686868" transform="rotate(85 53 137)"/><ellipse cx="100" cy="96" rx="4.0" ry="3.7" fill="#686868" transform="rotate(38 100 96)"/><ellipse cx="112" cy="152" rx="2.7" ry="3.2" fill="#767676" transform="rotate(145 112 152)"/><ellipse cx="74" cy="105" rx="3.7" ry="5.4" fill="#686868" transform="rotate(52 74 105)"/><ellipse cx="200" cy="3" rx="1.6" ry="2.8" fill="#686868" transform="rotate(137 200 3)"/><ellipse cx="52" cy="91" rx="3.5" ry="5.7" fill="#4e4e4e" transform="rotate(58 52 91)"/><ellipse cx="149" cy="55" rx="1.7" ry="1.2" fill="#767676" transform="rotate(143 149 55)"/><ellipse cx="119" cy="12" rx="3.4" ry="6.3" fill="#767676" transform="rotate(68 119 12)"/><ellipse cx="40" cy="38" rx="1.8" ry="3.5" fill="#767676" transform="rotate(147 40 38)"/><ellipse cx="81" cy="102" rx="2.3" ry="4.0" fill="#767676" transform="rotate(55 81 102)"/><ellipse cx="172" cy="136" rx="3.3" ry="2.6" fill="#5a5a5a" transform="rotate(30 172 136)"/><ellipse cx="52" cy="36" rx="2.5" ry="5.4" fill="#686868" transform="rotate(126 52 36)"/><ellipse cx="46" cy="118" rx="3.1" ry="5.6" fill="#686868" transform="rotate(117 46 118)"/><ellipse cx="45" cy="35" rx="3.5" ry="4.4" fill="#767676" transform="rotate(176 45 35)"/><ellipse cx="39" cy="97" rx="2.3" ry="4.5" fill="#686868" transform="rotate(114 39 97)"/><ellipse cx="208" cy="95" rx="2.5" ry="3.8" fill="#686868" transform="rotate(6 208 95)"/><ellipse cx="5" cy="65" rx="3.5" ry="5.3" fill="#5a5a5a" transform="rotate(30 5 65)"/><ellipse cx="118" cy="136" rx="3.6" ry="5.7" fill="#767676" transform="rotate(153 118 136)"/><ellipse cx="29" cy="63" rx="3.4" ry="2.8" fill="#4e4e4e" transform="rotate(71 29 63)"/><ellipse cx="207" cy="78" rx="2.9" ry="5.6" fill="#767676" transform="rotate(165 207 78)"/><ellipse cx="164" cy="69" rx="2.6" ry="4.8" fill="#767676" transform="rotate(46 164 69)"/><ellipse cx="111" cy="97" rx="3.8" ry="6.3" fill="#686868" transform="rotate(144 111 97)"/><ellipse cx="201" cy="80" rx="2.0" ry="2.8" fill="#5a5a5a" transform="rotate(138 201 80)"/><ellipse cx="133" cy="118" rx="1.6" ry="2.9" fill="#5a5a5a" transform="rotate(9 133 118)"/></g></g><g filter="url(#bl05)"><ellipse cx="9.7" cy="102.4" rx="11" ry="16" fill="#e4e4e4" stroke="#666" stroke-width="1.2"/><ellipse cx="154.3" cy="90.3" rx="9" ry="9" fill="#dedede" stroke="#666" stroke-width="1.2"/><ellipse cx="11.9" cy="34" rx="5" ry="5" fill="#555" stroke="#2a2a2a" stroke-width="1.1"/><ellipse cx="45" cy="40.6" rx="9" ry="11" fill="#777" stroke="#2a2a2a" stroke-width="1.1"/><ellipse cx="122.3" cy="69.3" rx="8" ry="8" fill="#555" stroke="#2a2a2a" stroke-width="1.1"/><ellipse cx="80.3" cy="123.4" rx="6" ry="6" fill="#484848" stroke="#2a2a2a" stroke-width="1.1"/><ellipse cx="30.6" cy="114.6" rx="5" ry="5" fill="#555" stroke="#2a2a2a" stroke-width="1.1"/><ellipse cx="165.4" cy="146.6" rx="8" ry="8" fill="#666" stroke="#2a2a2a" stroke-width="1.1"/><ellipse cx="113.5" cy="137.8" rx="7" ry="7" fill="#777" stroke="#2a2a2a" stroke-width="1.1"/><ellipse cx="131" cy="133.3" rx="6" ry="8" fill="#808080" stroke="#2a2a2a" stroke-width="1.1"/><ellipse cx="198.5" cy="56" rx="4.2" ry="4.2" fill="#444" stroke="#2a2a2a" stroke-width="1.1"/><ellipse cx="188.6" cy="49.4" rx="3" ry="3" fill="#555" stroke="#2a2a2a" stroke-width="1.1"/><ellipse cx="166.5" cy="77" rx="3" ry="3" fill="#333" stroke="#2a2a2a" stroke-width="1.1"/><ellipse cx="195.2" cy="81.4" rx="4" ry="4" fill="#555" stroke="#2a2a2a" stroke-width="1.1"/><ellipse cx="98" cy="63.8" rx="5" ry="5" fill="#5e5e5e" stroke="#2a2a2a" stroke-width="1.1"/><ellipse cx="102.4" cy="100.2" rx="5" ry="5" fill="#555" stroke="#2a2a2a" stroke-width="1.1"/><ellipse cx="89.2" cy="98" rx="4" ry="4" fill="#5a5a5a" stroke="#2a2a2a" stroke-width="1.1"/><ellipse cx="51.6" cy="106.8" rx="5" ry="5" fill="#666" stroke="#2a2a2a" stroke-width="1.1"/><ellipse cx="82.5" cy="26.2" rx="5" ry="5" fill="#5c5c5c" stroke="#2a2a2a" stroke-width="1.1"/><ellipse cx="201.8" cy="10.8" rx="4" ry="4" fill="#505050" stroke="#2a2a2a" stroke-width="1.1"/><ellipse cx="71.5" cy="3" rx="3.2" ry="3.2" fill="#555" stroke="#2a2a2a" stroke-width="1.1"/><ellipse cx="166.5" cy="14" rx="3" ry="3" fill="#505050" stroke="#2a2a2a" stroke-width="1.1"/><ellipse cx="140" cy="95" rx="7" ry="9" fill="#888" stroke="#2a2a2a" stroke-width="1.1"/><ellipse cx="142" cy="110" rx="5" ry="5" fill="#6a6a6a" stroke="#2a2a2a" stroke-width="1.1"/><ellipse cx="170" cy="125" rx="4" ry="4" fill="#555" stroke="#2a2a2a" stroke-width="1.1"/><ellipse cx="150" cy="42" rx="4" ry="4" fill="#505050" stroke="#2a2a2a" stroke-width="1.1"/><ellipse cx="65" cy="135" rx="5" ry="5" fill="#6e6e6e" stroke="#2a2a2a" stroke-width="1.1"/><ellipse cx="208" cy="112" rx="4" ry="5" fill="#666" stroke="#2a2a2a" stroke-width="1.1"/><ellipse cx="5" cy="150" rx="5" ry="5" fill="#606060" stroke="#2a2a2a" stroke-width="1.1"/><ellipse cx="20" cy="60" rx="4" ry="4" fill="#5a5a5a" stroke="#2a2a2a" stroke-width="1.1"/><ellipse cx="4" cy="56" rx="4" ry="4" fill="#606060" stroke="#2a2a2a" stroke-width="1.1"/><circle cx="105.7" cy="146.6" r="2.6" fill="#0c0c0c"/><circle cx="100.2" cy="152" r="2.6" fill="#0c0c0c"/><ellipse cx="110.2" cy="34" rx="3" ry="5" fill="none" stroke="#111" stroke-width="1.8"/><ellipse cx="81.4" cy="52.7" rx="3.5" ry="2" fill="#111"/><ellipse cx="42.8" cy="10.8" rx="6" ry="8" fill="#d8d8d8" stroke="#333" stroke-width="1.4"/><ellipse cx="88" cy="10" rx="8" ry="9" fill="#dadada" stroke="#777" stroke-width="1"/></g></g><rect x="190.4" y="151.4" width="24" height="6" fill="#f4f4f4"/><rect x="190.8" y="151.6" width="23.2" height="1.2" fill="#111"/></g></g>
<g id="labels">
<text x="9.2" y="34.2" font-size="28.5" font-weight="bold" text-anchor="start">a</text>
<text x="8.4" y="272.5" font-size="28.8" font-weight="bold" text-anchor="start">b</text>
<text x="292.2" y="273.1" font-size="28.5" font-weight="bold" text-anchor="start">c</text>
<text x="928.6" y="273.8" font-size="28.5" font-weight="bold" text-anchor="start">d</text>
<text x="174.1" y="236.8" font-size="29.5" text-anchor="middle">Class I</text>
<text x="397.5" y="238.1" font-size="29.5" text-anchor="middle">Class II</text>
<text x="624.9" y="236.9" font-size="29.5" text-anchor="middle">Class III</text>
<text x="850.5" y="236.9" font-size="29.5" text-anchor="middle">Class A</text>
<text x="1077.2" y="238.5" font-size="29.5" text-anchor="middle">Class B</text>
<text x="54.3" y="326.8" font-size="29.6" text-anchor="middle" transform="rotate(-90 54.3 326.8)">Sham</text>
<text x="54.3" y="485.1" font-size="29.6" text-anchor="middle" transform="rotate(-90 54.3 485.1)">NBP</text>
<text x="54.3" y="674.6" font-size="29.6" text-anchor="middle" transform="rotate(-90 54.3 674.6)">NS</text>
</g>
<g id="chartC">
<path d="M403.3 548.4V534.5M396.7 534.5H409.9" stroke="#000" stroke-width="1.3" fill="none"/>
<rect x="390.0" y="547.4" width="26.6" height="152.6" fill="#000"/>
<path d="M443.5 477.3V462.3M436.9 462.3H450.1" stroke="#000" stroke-width="1.3" fill="none"/>
<rect x="430.2" y="476.3" width="26.6" height="223.7" fill="#000"/><rect x="433.60" y="479.70" width="19.80" height="220.30" fill="#a1a1a6"/>
<path d="M483.8 447.5V437.4M477.2 437.4H490.4" stroke="#000" stroke-width="1.3" fill="none"/>
<rect x="470.5" y="446.5" width="26.6" height="253.5" fill="#000"/><rect x="473.90" y="449.90" width="19.80" height="250.10" fill="#7f7f7f"/>
<path d="M550.3 600.1V585.6M543.7 585.6H556.9" stroke="#000" stroke-width="1.3" fill="none"/>
<rect x="537.0" y="599.1" width="26.6" height="100.9" fill="#000"/>
<path d="M590.7 654.4V637.8M584.1 637.8H597.3" stroke="#000" stroke-width="1.3" fill="none"/>
<rect x="577.4" y="653.4" width="26.6" height="46.6" fill="#000"/><rect x="580.80" y="656.80" width="19.80" height="43.20" fill="#a1a1a6"/>
<path d="M630.5 670.0V660.0M623.9 660.0H637.1" stroke="#000" stroke-width="1.3" fill="none"/>
<rect x="617.2" y="669.0" width="26.6" height="31.0" fill="#000"/><rect x="620.60" y="672.40" width="19.80" height="27.60" fill="#7f7f7f"/>
<path d="M697.6 670.0V663.9M691.0 663.9H704.2" stroke="#000" stroke-width="1.3" fill="none"/>
<rect x="684.3" y="669.0" width="26.6" height="31.0" fill="#000"/>
<path d="M737.6 687.2V684.0M731.0 684.0H744.2" stroke="#000" stroke-width="1.3" fill="none"/>
<rect x="724.3" y="686.2" width="26.6" height="13.8" fill="#000"/><rect x="727.70" y="689.60" width="19.80" height="10.40" fill="#a1a1a6"/>
<path d="M377.2 414.09999999999997V700.0" stroke="#000" stroke-width="3" fill="none"/>
<path d="M364.6 700.0H806.1" stroke="#000" stroke-width="2.8" fill="none"/>
<path d="M364.6 643.0H377.2" stroke="#000" stroke-width="2.2" fill="none"/>
<path d="M364.6 586.1H377.2" stroke="#000" stroke-width="2.2" fill="none"/>
<path d="M364.6 529.1H377.2" stroke="#000" stroke-width="2.2" fill="none"/>
<path d="M364.6 472.2H377.2" stroke="#000" stroke-width="2.2" fill="none"/>
<path d="M364.6 415.2H377.2" stroke="#000" stroke-width="2.2" fill="none"/>
<path d="M443.3 700.0V711.1" stroke="#000" stroke-width="2.4" fill="none"/>
<path d="M590.7 700.0V711.1" stroke="#000" stroke-width="2.4" fill="none"/>
<path d="M737.6 700.0V711.1" stroke="#000" stroke-width="2.4" fill="none"/>
<text x="361.6" y="707.4" font-size="20.5" font-weight="bold" text-anchor="end">0.0</text>
<text x="361.6" y="650.4399999999999" font-size="20.5" font-weight="bold" text-anchor="end">0.2</text>
<text x="361.6" y="593.4799999999999" font-size="20.5" font-weight="bold" text-anchor="end">0.4</text>
<text x="361.6" y="536.52" font-size="20.5" font-weight="bold" text-anchor="end">0.6</text>
<text x="361.6" y="479.55999999999995" font-size="20.5" font-weight="bold" text-anchor="end">0.8</text>
<text x="361.6" y="422.59999999999997" font-size="20.5" font-weight="bold" text-anchor="end">1.0</text>
<text x="442.5" y="734.1" font-size="21" font-weight="bold" text-anchor="middle" letter-spacing="0.25">Class I</text>
<text x="589.9" y="734.1" font-size="21" font-weight="bold" text-anchor="middle" letter-spacing="0.25">Class II</text>
<text x="736.3" y="734.1" font-size="21" font-weight="bold" text-anchor="middle" letter-spacing="0.25">Class III</text>
<text x="315.7" y="556.3" font-size="23.5" font-weight="bold" text-anchor="middle" transform="rotate(-90 315.7 556.3)">Percentage of total mitochondria</text>
<path d="M403.0 359.7V342.8H483.9V359.7" stroke="#000" stroke-width="1.9" fill="none" stroke-linejoin="miter"/>
<path d="M403.0 419.8V403.7H443.3V419.8" stroke="#000" stroke-width="1.9" fill="none" stroke-linejoin="miter"/>
<path d="M550.3 359.7V342.8H630.8V359.7" stroke="#000" stroke-width="1.9" fill="none" stroke-linejoin="miter"/>
<path d="M550.3 419.8V403.7H590.7V419.8" stroke="#000" stroke-width="1.9" fill="none" stroke-linejoin="miter"/>
<g transform="translate(443.05 336.2) scale(0.92 1)"><text x="1.45" y="0" font-size="31" font-weight="bold" text-anchor="middle" class="st" letter-spacing="2.9">****</text></g>
<g transform="translate(423.0 396.4) scale(0.92 1)"><text x="1.45" y="0" font-size="31" font-weight="bold" text-anchor="middle" class="st" letter-spacing="2.9">***</text></g>
<g transform="translate(590.1 336.2) scale(0.92 1)"><text x="1.45" y="0" font-size="31" font-weight="bold" text-anchor="middle" class="st" letter-spacing="2.9">***</text></g>
<g transform="translate(570.15 396.4) scale(0.92 1)"><text x="1.45" y="0" font-size="31" font-weight="bold" text-anchor="middle" class="st" letter-spacing="2.9">**</text></g>
<rect x="788" y="401.8" width="30.9" height="14.8" fill="#000"/>
<text x="835.0" y="416.0" font-size="23.6" text-anchor="start">NS</text>
<rect x="790.1" y="435.3" width="26.7" height="10.6" fill="#a1a1a6" stroke="#000" stroke-width="4.2"/>
<text x="835.0" y="447.35" font-size="23.6" text-anchor="start">NBP</text>
<rect x="790.1" y="466.6" width="26.7" height="10.6" fill="#7f7f7f" stroke="#000" stroke-width="4.2"/>
<text x="835.0" y="478.7" font-size="23.6" text-anchor="start">Sham</text>
</g>
<g id="chartD">
<path d="M1067.0 549.3V522.2M1057.8 522.2H1076.2" stroke="#000" stroke-width="1.3" fill="none"/>
<rect x="1048.2" y="548.3" width="37.6" height="153.7" fill="#000"/>
<path d="M1123.6 470.8V464.9M1114.4 464.9H1132.8" stroke="#000" stroke-width="1.3" fill="none"/>
<rect x="1104.8" y="469.8" width="37.6" height="232.2" fill="#000"/><rect x="1108.40" y="473.40" width="30.40" height="228.60" fill="#a1a1a6"/>
<path d="M1180.6 445.2V426.9M1171.4 426.9H1189.8" stroke="#000" stroke-width="1.3" fill="none"/>
<rect x="1161.8" y="444.2" width="37.6" height="257.8" fill="#000"/><rect x="1165.40" y="447.80" width="30.40" height="254.20" fill="#7f7f7f"/>
<path d="M1028.5 415.70000000000005V702.0" stroke="#000" stroke-width="3" fill="none"/>
<path d="M1017 702.0H1219.2" stroke="#000" stroke-width="3" fill="none"/>
<path d="M1017 630.8H1028.5" stroke="#000" stroke-width="2.6" fill="none"/>
<path d="M1017 559.5H1028.5" stroke="#000" stroke-width="2.6" fill="none"/>
<path d="M1017 488.3H1028.5" stroke="#000" stroke-width="2.6" fill="none"/>
<path d="M1017 417.1H1028.5" stroke="#000" stroke-width="2.6" fill="none"/>
<path d="M1066.6 702.0V714" stroke="#000" stroke-width="2.6" fill="none"/>
<path d="M1123.3 702.0V714" stroke="#000" stroke-width="2.6" fill="none"/>
<path d="M1180.3 702.0V714" stroke="#000" stroke-width="2.6" fill="none"/>
<text x="1013.4" y="709.4" font-size="20.5" font-weight="bold" text-anchor="end">0.6</text>
<text x="1013.4" y="638.175" font-size="20.5" font-weight="bold" text-anchor="end">0.7</text>
<text x="1013.4" y="566.9499999999999" font-size="20.5" font-weight="bold" text-anchor="end">0.8</text>
<text x="1013.4" y="495.725" font-size="20.5" font-weight="bold" text-anchor="end">0.9</text>
<text x="1013.4" y="424.5" font-size="20.5" font-weight="bold" text-anchor="end">1.0</text>
<text x="1066.5" y="736.2" font-size="21" font-weight="bold" text-anchor="middle" letter-spacing="0.25">NS</text>
<text x="1122.7" y="736.2" font-size="21" font-weight="bold" text-anchor="middle" letter-spacing="0.25">NBP</text>
<text x="1179.5" y="736.2" font-size="21" font-weight="bold" text-anchor="middle" letter-spacing="0.25">Sham</text>
<text x="951.4" y="558.6" font-size="23.9" font-weight="bold" text-anchor="middle" transform="rotate(-90 951.4 558.6)">Proportion of Class A</text>
<path d="M1058.0 355.5V341.8H1180.8V355.5" stroke="#000" stroke-width="3.4" fill="none" stroke-linejoin="miter"/>
<path d="M1121.4 405.4V391.5H1180.8V405.4" stroke="#000" stroke-width="3.4" fill="none" stroke-linejoin="miter"/>
<g transform="translate(1119.8 334.5) scale(0.92 1)"><text x="1.45" y="0" font-size="31" font-weight="bold" text-anchor="middle" class="st" letter-spacing="2.9">*</text></g>
<g transform="translate(1151.7 385.1) scale(0.92 1)"><text x="1.45" y="0" font-size="31" font-weight="bold" text-anchor="middle" class="st" letter-spacing="2.9">*</text></g>
</g>
</svg></body></html>
